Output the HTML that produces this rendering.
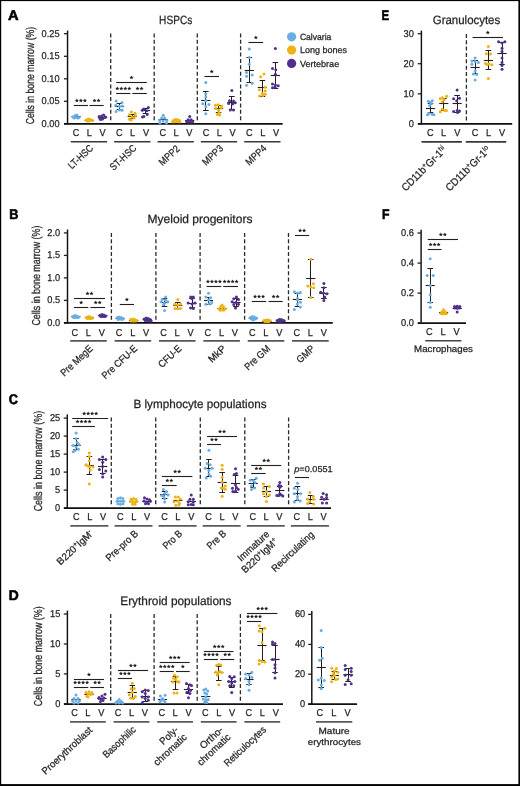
<!DOCTYPE html>
<html><head><meta charset="utf-8"><style>
html,body{margin:0;padding:0;background:#fff;width:520px;height:786px;overflow:hidden}
svg{display:block;will-change:transform}
text{font-family:"Liberation Sans",sans-serif;stroke:#231f20;stroke-width:0.25px;text-rendering:geometricPrecision}
</style></head><body>
<svg width="520" height="786" viewBox="0 0 520 786">
<rect x="0" y="0" width="520" height="786" fill="#fff"/>
<text x="8" y="19.6" font-size="14" text-anchor="start" fill="#000" font-weight="bold" textLength="10.6" lengthAdjust="spacingAndGlyphs" style="stroke:#000;stroke-width:0.6px">A</text>
<text x="159.1" y="23.9" font-size="12" text-anchor="start" fill="#231f20" font-weight="normal" textLength="33.2" lengthAdjust="spacingAndGlyphs">HSPCs</text>
<text transform="translate(34 75.6) rotate(-90)" font-size="11.5" text-anchor="middle" fill="#231f20" textLength="97.5" lengthAdjust="spacingAndGlyphs">Cells in bone marrow (%)</text>
<line x1="67.55" y1="30.6" x2="67.55" y2="124.3" stroke="#111" stroke-width="1.45"/>
<line x1="63.95" y1="33.7" x2="67.55" y2="33.7" stroke="#231f20" stroke-width="1.3"/>
<text x="59.6" y="36.6" font-size="9.9" text-anchor="end" fill="#231f20" font-weight="normal" textLength="18.01" lengthAdjust="spacingAndGlyphs">0.25</text>
<line x1="63.95" y1="56.3" x2="67.55" y2="56.3" stroke="#231f20" stroke-width="1.3"/>
<text x="59.6" y="59.2" font-size="9.9" text-anchor="end" fill="#231f20" font-weight="normal" textLength="18.01" lengthAdjust="spacingAndGlyphs">0.15</text>
<line x1="63.95" y1="78.8" x2="67.55" y2="78.8" stroke="#231f20" stroke-width="1.3"/>
<text x="59.6" y="81.7" font-size="9.9" text-anchor="end" fill="#231f20" font-weight="normal" textLength="18.01" lengthAdjust="spacingAndGlyphs">0.10</text>
<line x1="63.95" y1="101.3" x2="67.55" y2="101.3" stroke="#231f20" stroke-width="1.3"/>
<text x="59.6" y="104.2" font-size="9.9" text-anchor="end" fill="#231f20" font-weight="normal" textLength="18.01" lengthAdjust="spacingAndGlyphs">0.05</text>
<line x1="63.95" y1="123.8" x2="67.55" y2="123.8" stroke="#231f20" stroke-width="1.3"/>
<text x="59.6" y="126.7" font-size="9.9" text-anchor="end" fill="#231f20" font-weight="normal" textLength="18.01" lengthAdjust="spacingAndGlyphs">0.00</text>
<line x1="64" y1="123.8" x2="282.6" y2="123.8" stroke="#111" stroke-width="1.7"/>
<line x1="110.7" y1="33.5" x2="110.7" y2="122.5" stroke="#2a2a2a" stroke-width="1.3" stroke-dasharray="4 2.36"/>
<line x1="154.2" y1="33.5" x2="154.2" y2="122.5" stroke="#2a2a2a" stroke-width="1.3" stroke-dasharray="4 2.36"/>
<line x1="197.3" y1="33.5" x2="197.3" y2="122.5" stroke="#2a2a2a" stroke-width="1.3" stroke-dasharray="4 2.36"/>
<line x1="240.6" y1="33.5" x2="240.6" y2="122.5" stroke="#2a2a2a" stroke-width="1.3" stroke-dasharray="4 2.36"/>
<text x="76" y="135.6" font-size="10" text-anchor="middle" fill="#231f20" font-weight="normal" textLength="6.64" lengthAdjust="spacingAndGlyphs">C</text>
<text x="89.3" y="135.6" font-size="10" text-anchor="middle" fill="#231f20" font-weight="normal" textLength="5.12" lengthAdjust="spacingAndGlyphs">L</text>
<text x="102.6" y="135.6" font-size="10" text-anchor="middle" fill="#231f20" font-weight="normal" textLength="6.14" lengthAdjust="spacingAndGlyphs">V</text>
<text x="119.35" y="135.6" font-size="10" text-anchor="middle" fill="#231f20" font-weight="normal" textLength="6.64" lengthAdjust="spacingAndGlyphs">C</text>
<text x="132.65" y="135.6" font-size="10" text-anchor="middle" fill="#231f20" font-weight="normal" textLength="5.12" lengthAdjust="spacingAndGlyphs">L</text>
<text x="145.95" y="135.6" font-size="10" text-anchor="middle" fill="#231f20" font-weight="normal" textLength="6.14" lengthAdjust="spacingAndGlyphs">V</text>
<text x="162.7" y="135.6" font-size="10" text-anchor="middle" fill="#231f20" font-weight="normal" textLength="6.64" lengthAdjust="spacingAndGlyphs">C</text>
<text x="176" y="135.6" font-size="10" text-anchor="middle" fill="#231f20" font-weight="normal" textLength="5.12" lengthAdjust="spacingAndGlyphs">L</text>
<text x="189.3" y="135.6" font-size="10" text-anchor="middle" fill="#231f20" font-weight="normal" textLength="6.14" lengthAdjust="spacingAndGlyphs">V</text>
<text x="206.05" y="135.6" font-size="10" text-anchor="middle" fill="#231f20" font-weight="normal" textLength="6.64" lengthAdjust="spacingAndGlyphs">C</text>
<text x="219.35" y="135.6" font-size="10" text-anchor="middle" fill="#231f20" font-weight="normal" textLength="5.12" lengthAdjust="spacingAndGlyphs">L</text>
<text x="232.65" y="135.6" font-size="10" text-anchor="middle" fill="#231f20" font-weight="normal" textLength="6.14" lengthAdjust="spacingAndGlyphs">V</text>
<text x="249.4" y="135.6" font-size="10" text-anchor="middle" fill="#231f20" font-weight="normal" textLength="6.64" lengthAdjust="spacingAndGlyphs">C</text>
<text x="262.7" y="135.6" font-size="10" text-anchor="middle" fill="#231f20" font-weight="normal" textLength="5.12" lengthAdjust="spacingAndGlyphs">L</text>
<text x="276" y="135.6" font-size="10" text-anchor="middle" fill="#231f20" font-weight="normal" textLength="6.14" lengthAdjust="spacingAndGlyphs">V</text>
<line x1="70.8" y1="141.8" x2="107.1" y2="141.8" stroke="#383838" stroke-width="1.6"/>
<text transform="translate(93.8 149) rotate(-43)" font-size="10" text-anchor="end" fill="#231f20" textLength="30.08" lengthAdjust="spacingAndGlyphs">LT-HSC</text>
<line x1="114.15" y1="141.8" x2="150.45" y2="141.8" stroke="#383838" stroke-width="1.6"/>
<text transform="translate(137.15 149) rotate(-43)" font-size="10" text-anchor="end" fill="#231f20" textLength="32.34" lengthAdjust="spacingAndGlyphs">ST-HSC</text>
<line x1="157.5" y1="141.8" x2="193.8" y2="141.8" stroke="#383838" stroke-width="1.6"/>
<text transform="translate(180.5 149.5) rotate(-43)" font-size="10" text-anchor="end" fill="#231f20" textLength="24.51" lengthAdjust="spacingAndGlyphs">MPP2</text>
<line x1="200.85" y1="141.8" x2="237.15" y2="141.8" stroke="#383838" stroke-width="1.6"/>
<text transform="translate(223.85 149.2) rotate(-43)" font-size="10" text-anchor="end" fill="#231f20" textLength="24.51" lengthAdjust="spacingAndGlyphs">MPP3</text>
<line x1="244.2" y1="141.8" x2="280.5" y2="141.8" stroke="#383838" stroke-width="1.6"/>
<text transform="translate(267.2 149.2) rotate(-43)" font-size="10" text-anchor="end" fill="#231f20" textLength="24.51" lengthAdjust="spacingAndGlyphs">MPP4</text>
<circle cx="291.6" cy="36.8" r="4.6" fill="#6aade2"/>
<text x="299.9" y="40" font-size="9" text-anchor="start" fill="#231f20" font-weight="normal" textLength="31.5" lengthAdjust="spacingAndGlyphs">Calvaria</text>
<circle cx="291.6" cy="50.1" r="4.6" fill="#eeb311"/>
<text x="299.9" y="53.3" font-size="9" text-anchor="start" fill="#231f20" font-weight="normal" textLength="47" lengthAdjust="spacingAndGlyphs">Long bones</text>
<circle cx="291.6" cy="63.4" r="4.6" fill="#51308d"/>
<text x="299.9" y="66.6" font-size="9" text-anchor="start" fill="#231f20" font-weight="normal" textLength="39.3" lengthAdjust="spacingAndGlyphs">Vertebrae</text>
<line x1="71.4" y1="116.5" x2="80.6" y2="116.5" stroke="#231f20" stroke-width="1.1"/>
<circle cx="73" cy="117" r="1.5" fill="#6aade2"/>
<circle cx="75" cy="115.5" r="1.5" fill="#6aade2"/>
<circle cx="77" cy="115" r="1.5" fill="#6aade2"/>
<circle cx="79" cy="117.5" r="1.5" fill="#6aade2"/>
<circle cx="76" cy="117.5" r="1.5" fill="#6aade2"/>
<circle cx="74" cy="118" r="1.5" fill="#6aade2"/>
<circle cx="78" cy="118" r="1.5" fill="#6aade2"/>
<line x1="84.7" y1="120.5" x2="93.9" y2="120.5" stroke="#231f20" stroke-width="1.1"/>
<circle cx="86.3" cy="120" r="1.5" fill="#eeb311"/>
<circle cx="88.3" cy="119" r="1.5" fill="#eeb311"/>
<circle cx="90.3" cy="119.5" r="1.5" fill="#eeb311"/>
<circle cx="92.3" cy="120.5" r="1.5" fill="#eeb311"/>
<circle cx="89.3" cy="121" r="1.5" fill="#eeb311"/>
<circle cx="87.3" cy="121" r="1.5" fill="#eeb311"/>
<circle cx="91.3" cy="120" r="1.5" fill="#eeb311"/>
<line x1="98" y1="117.5" x2="107.2" y2="117.5" stroke="#231f20" stroke-width="1.1"/>
<circle cx="99.6" cy="118" r="1.5" fill="#51308d"/>
<circle cx="101.6" cy="116" r="1.5" fill="#51308d"/>
<circle cx="103.6" cy="115" r="1.5" fill="#51308d"/>
<circle cx="105.6" cy="117" r="1.5" fill="#51308d"/>
<circle cx="102.6" cy="119" r="1.5" fill="#51308d"/>
<circle cx="100.6" cy="119.5" r="1.5" fill="#51308d"/>
<circle cx="104.6" cy="117.5" r="1.5" fill="#51308d"/>
<circle cx="99.1" cy="116.5" r="1.5" fill="#51308d"/>
<line x1="119.5" y1="103.1" x2="119.5" y2="109.5" stroke="#231f20" stroke-width="1"/>
<line x1="116.7" y1="103.5" x2="122.3" y2="103.5" stroke="#231f20" stroke-width="1"/>
<line x1="116.7" y1="109.5" x2="122.3" y2="109.5" stroke="#231f20" stroke-width="1"/>
<line x1="114.9" y1="106.5" x2="124.1" y2="106.5" stroke="#231f20" stroke-width="1.1"/>
<circle cx="116.1" cy="101.1" r="1.5" fill="#6aade2"/>
<circle cx="122" cy="102.4" r="1.5" fill="#6aade2"/>
<circle cx="115.8" cy="105.3" r="1.5" fill="#6aade2"/>
<circle cx="122.1" cy="105.9" r="1.5" fill="#6aade2"/>
<circle cx="119.5" cy="106.3" r="1.5" fill="#6aade2"/>
<circle cx="116.1" cy="111.6" r="1.5" fill="#6aade2"/>
<circle cx="122.1" cy="110.3" r="1.5" fill="#6aade2"/>
<circle cx="119.5" cy="110" r="1.5" fill="#6aade2"/>
<line x1="132.5" y1="114" x2="132.5" y2="118.5" stroke="#231f20" stroke-width="1"/>
<line x1="129.4" y1="114.5" x2="135" y2="114.5" stroke="#231f20" stroke-width="1"/>
<line x1="129.4" y1="118.5" x2="135" y2="118.5" stroke="#231f20" stroke-width="1"/>
<line x1="127.6" y1="116.5" x2="136.8" y2="116.5" stroke="#231f20" stroke-width="1.1"/>
<circle cx="131.4" cy="112" r="1.5" fill="#eeb311"/>
<circle cx="135" cy="113.2" r="1.5" fill="#eeb311"/>
<circle cx="129.4" cy="114.8" r="1.5" fill="#eeb311"/>
<circle cx="135.5" cy="115.5" r="1.5" fill="#eeb311"/>
<circle cx="129.4" cy="119.2" r="1.5" fill="#eeb311"/>
<circle cx="134.2" cy="118" r="1.5" fill="#eeb311"/>
<circle cx="132" cy="117" r="1.5" fill="#eeb311"/>
<circle cx="131.2" cy="120" r="1.5" fill="#eeb311"/>
<line x1="145.5" y1="108.5" x2="145.5" y2="113" stroke="#231f20" stroke-width="1"/>
<line x1="142.7" y1="108.5" x2="148.3" y2="108.5" stroke="#231f20" stroke-width="1"/>
<line x1="142.7" y1="113.5" x2="148.3" y2="113.5" stroke="#231f20" stroke-width="1"/>
<line x1="140.9" y1="110.5" x2="150.1" y2="110.5" stroke="#231f20" stroke-width="1.1"/>
<circle cx="148.4" cy="107.5" r="1.5" fill="#51308d"/>
<circle cx="143.9" cy="109.1" r="1.5" fill="#51308d"/>
<circle cx="142.3" cy="110.3" r="1.5" fill="#51308d"/>
<circle cx="146.8" cy="110.8" r="1.5" fill="#51308d"/>
<circle cx="147.2" cy="114.4" r="1.5" fill="#51308d"/>
<circle cx="143.9" cy="116.4" r="1.5" fill="#51308d"/>
<circle cx="142.5" cy="117" r="1.5" fill="#51308d"/>
<line x1="158.6" y1="119.5" x2="167.8" y2="119.5" stroke="#231f20" stroke-width="1.1"/>
<circle cx="163.2" cy="115.2" r="1.5" fill="#6aade2"/>
<circle cx="161.7" cy="118" r="1.5" fill="#6aade2"/>
<circle cx="164.7" cy="118" r="1.5" fill="#6aade2"/>
<circle cx="159.7" cy="120.5" r="1.5" fill="#6aade2"/>
<circle cx="166.7" cy="120.5" r="1.5" fill="#6aade2"/>
<circle cx="160" cy="123" r="1.5" fill="#6aade2"/>
<circle cx="166.4" cy="123" r="1.5" fill="#6aade2"/>
<circle cx="163.2" cy="121" r="1.5" fill="#6aade2"/>
<line x1="171.7" y1="121.5" x2="180.9" y2="121.5" stroke="#231f20" stroke-width="1.1"/>
<circle cx="173.3" cy="120.5" r="1.5" fill="#eeb311"/>
<circle cx="175.3" cy="119.5" r="1.5" fill="#eeb311"/>
<circle cx="177.3" cy="119.5" r="1.5" fill="#eeb311"/>
<circle cx="179.3" cy="120.5" r="1.5" fill="#eeb311"/>
<circle cx="176.3" cy="121.5" r="1.5" fill="#eeb311"/>
<circle cx="173.8" cy="121.8" r="1.5" fill="#eeb311"/>
<circle cx="178.8" cy="121.8" r="1.5" fill="#eeb311"/>
<circle cx="172.8" cy="121.7" r="1.5" fill="#eeb311"/>
<circle cx="179.8" cy="121.7" r="1.5" fill="#eeb311"/>
<line x1="185.1" y1="120.5" x2="194.3" y2="120.5" stroke="#231f20" stroke-width="1.1"/>
<circle cx="189.7" cy="116.5" r="1.5" fill="#51308d"/>
<circle cx="188.2" cy="119.8" r="1.5" fill="#51308d"/>
<circle cx="191.2" cy="119.8" r="1.5" fill="#51308d"/>
<circle cx="186.7" cy="121.5" r="1.5" fill="#51308d"/>
<circle cx="192.7" cy="121.5" r="1.5" fill="#51308d"/>
<circle cx="189.7" cy="121.5" r="1.5" fill="#51308d"/>
<circle cx="188.2" cy="122" r="1.5" fill="#51308d"/>
<circle cx="191.2" cy="122" r="1.5" fill="#51308d"/>
<line x1="205.5" y1="91" x2="205.5" y2="110" stroke="#231f20" stroke-width="1"/>
<line x1="203" y1="91.5" x2="208.6" y2="91.5" stroke="#231f20" stroke-width="1"/>
<line x1="203" y1="110.5" x2="208.6" y2="110.5" stroke="#231f20" stroke-width="1"/>
<line x1="201.2" y1="100.5" x2="210.4" y2="100.5" stroke="#231f20" stroke-width="1.1"/>
<circle cx="205.8" cy="82.6" r="1.5" fill="#6aade2"/>
<circle cx="205.8" cy="93.9" r="1.5" fill="#6aade2"/>
<circle cx="205.8" cy="97.1" r="1.5" fill="#6aade2"/>
<circle cx="205.8" cy="100.7" r="1.5" fill="#6aade2"/>
<circle cx="202.8" cy="103.8" r="1.5" fill="#6aade2"/>
<circle cx="208.9" cy="104.4" r="1.5" fill="#6aade2"/>
<circle cx="205.8" cy="106.8" r="1.5" fill="#6aade2"/>
<circle cx="205.8" cy="113.7" r="1.5" fill="#6aade2"/>
<line x1="218.5" y1="105.2" x2="218.5" y2="112.5" stroke="#231f20" stroke-width="1"/>
<line x1="215.8" y1="105.5" x2="221.4" y2="105.5" stroke="#231f20" stroke-width="1"/>
<line x1="215.8" y1="112.5" x2="221.4" y2="112.5" stroke="#231f20" stroke-width="1"/>
<line x1="214" y1="108.5" x2="223.2" y2="108.5" stroke="#231f20" stroke-width="1.1"/>
<circle cx="215.4" cy="105.2" r="1.5" fill="#eeb311"/>
<circle cx="218.2" cy="104.8" r="1.5" fill="#eeb311"/>
<circle cx="221.8" cy="106" r="1.5" fill="#eeb311"/>
<circle cx="215.8" cy="108.4" r="1.5" fill="#eeb311"/>
<circle cx="218.6" cy="110" r="1.5" fill="#eeb311"/>
<circle cx="219" cy="112.8" r="1.5" fill="#eeb311"/>
<circle cx="217.4" cy="114.5" r="1.5" fill="#eeb311"/>
<circle cx="219.8" cy="114.9" r="1.5" fill="#eeb311"/>
<circle cx="221.1" cy="108" r="1.5" fill="#eeb311"/>
<line x1="231.5" y1="96.5" x2="231.5" y2="109.6" stroke="#231f20" stroke-width="1"/>
<line x1="229" y1="96.5" x2="234.6" y2="96.5" stroke="#231f20" stroke-width="1"/>
<line x1="229" y1="109.5" x2="234.6" y2="109.5" stroke="#231f20" stroke-width="1"/>
<line x1="227.2" y1="102.5" x2="236.4" y2="102.5" stroke="#231f20" stroke-width="1.1"/>
<circle cx="231.8" cy="90.4" r="1.5" fill="#51308d"/>
<circle cx="229.5" cy="100.7" r="1.5" fill="#51308d"/>
<circle cx="233.5" cy="101.1" r="1.5" fill="#51308d"/>
<circle cx="235.2" cy="102.8" r="1.5" fill="#51308d"/>
<circle cx="228.7" cy="103.6" r="1.5" fill="#51308d"/>
<circle cx="232.7" cy="104" r="1.5" fill="#51308d"/>
<circle cx="230.3" cy="110" r="1.5" fill="#51308d"/>
<circle cx="233.5" cy="110" r="1.5" fill="#51308d"/>
<line x1="249.5" y1="57.6" x2="249.5" y2="82.8" stroke="#231f20" stroke-width="1"/>
<line x1="246.5" y1="57.5" x2="252.1" y2="57.5" stroke="#231f20" stroke-width="1"/>
<line x1="246.5" y1="82.5" x2="252.1" y2="82.5" stroke="#231f20" stroke-width="1"/>
<line x1="244.7" y1="70.5" x2="253.9" y2="70.5" stroke="#231f20" stroke-width="1.1"/>
<circle cx="249.3" cy="48.9" r="1.5" fill="#6aade2"/>
<circle cx="249.3" cy="57.6" r="1.5" fill="#6aade2"/>
<circle cx="249.3" cy="64.3" r="1.5" fill="#6aade2"/>
<circle cx="246.5" cy="72.5" r="1.5" fill="#6aade2"/>
<circle cx="252.2" cy="74.9" r="1.5" fill="#6aade2"/>
<circle cx="246.5" cy="76.3" r="1.5" fill="#6aade2"/>
<circle cx="252.2" cy="83.2" r="1.5" fill="#6aade2"/>
<circle cx="246.5" cy="85.3" r="1.5" fill="#6aade2"/>
<line x1="262.5" y1="80" x2="262.5" y2="96.3" stroke="#231f20" stroke-width="1"/>
<line x1="259.6" y1="80.5" x2="265.2" y2="80.5" stroke="#231f20" stroke-width="1"/>
<line x1="259.6" y1="96.5" x2="265.2" y2="96.5" stroke="#231f20" stroke-width="1"/>
<line x1="257.8" y1="87.5" x2="267" y2="87.5" stroke="#231f20" stroke-width="1.1"/>
<circle cx="264" cy="74.1" r="1.5" fill="#eeb311"/>
<circle cx="260.7" cy="76.7" r="1.5" fill="#eeb311"/>
<circle cx="265.2" cy="87.3" r="1.5" fill="#eeb311"/>
<circle cx="259.5" cy="89.7" r="1.5" fill="#eeb311"/>
<circle cx="265.2" cy="91" r="1.5" fill="#eeb311"/>
<circle cx="262.4" cy="93.4" r="1.5" fill="#eeb311"/>
<circle cx="265.2" cy="94.2" r="1.5" fill="#eeb311"/>
<circle cx="259.5" cy="95.9" r="1.5" fill="#eeb311"/>
<circle cx="262.9" cy="95.5" r="1.5" fill="#eeb311"/>
<line x1="275.5" y1="62.5" x2="275.5" y2="88.5" stroke="#231f20" stroke-width="1"/>
<line x1="272.6" y1="62.5" x2="278.2" y2="62.5" stroke="#231f20" stroke-width="1"/>
<line x1="272.6" y1="88.5" x2="278.2" y2="88.5" stroke="#231f20" stroke-width="1"/>
<line x1="270.8" y1="75.5" x2="280" y2="75.5" stroke="#231f20" stroke-width="1.1"/>
<circle cx="275.4" cy="48.6" r="1.5" fill="#51308d"/>
<circle cx="272.5" cy="68.6" r="1.5" fill="#51308d"/>
<circle cx="275.8" cy="69.8" r="1.5" fill="#51308d"/>
<circle cx="275.4" cy="74.3" r="1.5" fill="#51308d"/>
<circle cx="272.5" cy="84" r="1.5" fill="#51308d"/>
<circle cx="275.4" cy="85" r="1.5" fill="#51308d"/>
<circle cx="278.2" cy="85.8" r="1.5" fill="#51308d"/>
<circle cx="272.5" cy="87.7" r="1.5" fill="#51308d"/>
<circle cx="275" cy="87.2" r="1.5" fill="#51308d"/>
<line x1="73.8" y1="105.5" x2="88" y2="105.5" stroke="#231f20" stroke-width="1.1"/>
<polygon points="76.9,98.45 77.49,99.78 78.94,99.94 77.86,100.91 78.16,102.34 76.9,101.61 75.64,102.34 75.94,100.91 74.86,99.94 76.31,99.78" fill="#231f20"/>
<polygon points="80.9,98.45 81.49,99.78 82.94,99.94 81.86,100.91 82.16,102.34 80.9,101.61 79.64,102.34 79.94,100.91 78.86,99.94 80.31,99.78" fill="#231f20"/>
<polygon points="84.9,98.45 85.49,99.78 86.94,99.94 85.86,100.91 86.16,102.34 84.9,101.61 83.64,102.34 83.94,100.91 82.86,99.94 84.31,99.78" fill="#231f20"/>
<line x1="89.4" y1="105.5" x2="103.7" y2="105.5" stroke="#231f20" stroke-width="1.1"/>
<polygon points="94.55,98.45 95.14,99.78 96.59,99.94 95.51,100.91 95.81,102.34 94.55,101.61 93.29,102.34 93.59,100.91 92.51,99.94 93.96,99.78" fill="#231f20"/>
<polygon points="98.55,98.45 99.14,99.78 100.59,99.94 99.51,100.91 99.81,102.34 98.55,101.61 97.29,102.34 97.59,100.91 96.51,99.94 97.96,99.78" fill="#231f20"/>
<line x1="116.2" y1="82.5" x2="146.8" y2="82.5" stroke="#231f20" stroke-width="1.1"/>
<polygon points="131.5,75.45 132.09,76.78 133.54,76.94 132.46,77.91 132.76,79.34 131.5,78.61 130.24,79.34 130.54,77.91 129.46,76.94 130.91,76.78" fill="#231f20"/>
<line x1="116.2" y1="93.5" x2="130.4" y2="93.5" stroke="#231f20" stroke-width="1.1"/>
<polygon points="117.3,86.45 117.89,87.78 119.34,87.94 118.26,88.91 118.56,90.34 117.3,89.61 116.04,90.34 116.34,88.91 115.26,87.94 116.71,87.78" fill="#231f20"/>
<polygon points="121.3,86.45 121.89,87.78 123.34,87.94 122.26,88.91 122.56,90.34 121.3,89.61 120.04,90.34 120.34,88.91 119.26,87.94 120.71,87.78" fill="#231f20"/>
<polygon points="125.3,86.45 125.89,87.78 127.34,87.94 126.26,88.91 126.56,90.34 125.3,89.61 124.04,90.34 124.34,88.91 123.26,87.94 124.71,87.78" fill="#231f20"/>
<polygon points="129.3,86.45 129.89,87.78 131.34,87.94 130.26,88.91 130.56,90.34 129.3,89.61 128.04,90.34 128.34,88.91 127.26,87.94 128.71,87.78" fill="#231f20"/>
<line x1="132.3" y1="93.5" x2="146.8" y2="93.5" stroke="#231f20" stroke-width="1.1"/>
<polygon points="137.55,86.45 138.14,87.78 139.59,87.94 138.51,88.91 138.81,90.34 137.55,89.61 136.29,90.34 136.59,88.91 135.51,87.94 136.96,87.78" fill="#231f20"/>
<polygon points="141.55,86.45 142.14,87.78 143.59,87.94 142.51,88.91 142.81,90.34 141.55,89.61 140.29,90.34 140.59,88.91 139.51,87.94 140.96,87.78" fill="#231f20"/>
<line x1="204.4" y1="76.5" x2="219" y2="76.5" stroke="#231f20" stroke-width="1.1"/>
<polygon points="211.7,69.45 212.29,70.78 213.74,70.94 212.66,71.91 212.96,73.34 211.7,72.61 210.44,73.34 210.74,71.91 209.66,70.94 211.11,70.78" fill="#231f20"/>
<line x1="248.5" y1="42.5" x2="263.2" y2="42.5" stroke="#231f20" stroke-width="1.1"/>
<polygon points="255.85,35.45 256.44,36.78 257.89,36.94 256.81,37.91 257.11,39.34 255.85,38.61 254.59,39.34 254.89,37.91 253.81,36.94 255.26,36.78" fill="#231f20"/>
<text x="381.6" y="19.7" font-size="14" text-anchor="start" fill="#000" font-weight="bold" textLength="7.6" lengthAdjust="spacingAndGlyphs" style="stroke:#000;stroke-width:0.6px">E</text>
<text x="466.5" y="23.9" font-size="12" text-anchor="middle" fill="#231f20" font-weight="normal" textLength="67.4" lengthAdjust="spacingAndGlyphs">Granulocytes</text>
<line x1="421.4" y1="30.6" x2="421.4" y2="124.3" stroke="#111" stroke-width="1.45"/>
<line x1="417.8" y1="33.7" x2="421.4" y2="33.7" stroke="#231f20" stroke-width="1.3"/>
<text x="413.9" y="36.6" font-size="9.9" text-anchor="end" fill="#231f20" font-weight="normal" textLength="10.29" lengthAdjust="spacingAndGlyphs">30</text>
<line x1="417.8" y1="63.7" x2="421.4" y2="63.7" stroke="#231f20" stroke-width="1.3"/>
<text x="413.9" y="66.6" font-size="9.9" text-anchor="end" fill="#231f20" font-weight="normal" textLength="10.29" lengthAdjust="spacingAndGlyphs">20</text>
<line x1="417.8" y1="93.8" x2="421.4" y2="93.8" stroke="#231f20" stroke-width="1.3"/>
<text x="413.9" y="96.7" font-size="9.9" text-anchor="end" fill="#231f20" font-weight="normal" textLength="10.29" lengthAdjust="spacingAndGlyphs">10</text>
<line x1="417.8" y1="123.9" x2="421.4" y2="123.9" stroke="#231f20" stroke-width="1.3"/>
<text x="413.9" y="126.8" font-size="9.9" text-anchor="end" fill="#231f20" font-weight="normal" textLength="5.15" lengthAdjust="spacingAndGlyphs">0</text>
<line x1="418" y1="123.8" x2="512.2" y2="123.8" stroke="#111" stroke-width="1.7"/>
<line x1="466.4" y1="33.9" x2="466.4" y2="122" stroke="#2a2a2a" stroke-width="1.3" stroke-dasharray="4 2.36"/>
<text x="430.3" y="135.7" font-size="10" text-anchor="middle" fill="#231f20" font-weight="normal" textLength="6.64" lengthAdjust="spacingAndGlyphs">C</text>
<text x="443.5" y="135.7" font-size="10" text-anchor="middle" fill="#231f20" font-weight="normal" textLength="5.12" lengthAdjust="spacingAndGlyphs">L</text>
<text x="457.2" y="135.7" font-size="10" text-anchor="middle" fill="#231f20" font-weight="normal" textLength="6.14" lengthAdjust="spacingAndGlyphs">V</text>
<text x="475.1" y="135.7" font-size="10" text-anchor="middle" fill="#231f20" font-weight="normal" textLength="6.64" lengthAdjust="spacingAndGlyphs">C</text>
<text x="488.5" y="135.7" font-size="10" text-anchor="middle" fill="#231f20" font-weight="normal" textLength="5.12" lengthAdjust="spacingAndGlyphs">L</text>
<text x="502" y="135.7" font-size="10" text-anchor="middle" fill="#231f20" font-weight="normal" textLength="6.14" lengthAdjust="spacingAndGlyphs">V</text>
<line x1="421.5" y1="141.9" x2="461.9" y2="141.9" stroke="#383838" stroke-width="1.6"/>
<line x1="465.8" y1="141.9" x2="506.2" y2="141.9" stroke="#383838" stroke-width="1.6"/>
<text transform="translate(447 150.5) rotate(-45)" font-size="10.5" text-anchor="end" fill="#231f20" textLength="58.5" lengthAdjust="spacingAndGlyphs">CD11b<tspan dy="-3.5" font-size="7">+</tspan><tspan dy="3.5">Gr-1</tspan><tspan dy="-3.5" font-size="7">hi</tspan></text>
<text transform="translate(491 150.5) rotate(-45)" font-size="10.5" text-anchor="end" fill="#231f20" textLength="58.5" lengthAdjust="spacingAndGlyphs">CD11b<tspan dy="-3.5" font-size="7">+</tspan><tspan dy="3.5">Gr-1</tspan><tspan dy="-3.5" font-size="7">lo</tspan></text>
<line x1="430.5" y1="103" x2="430.5" y2="112.5" stroke="#231f20" stroke-width="1"/>
<line x1="427.7" y1="103.5" x2="433.3" y2="103.5" stroke="#231f20" stroke-width="1"/>
<line x1="427.7" y1="112.5" x2="433.3" y2="112.5" stroke="#231f20" stroke-width="1"/>
<line x1="425.9" y1="108.5" x2="435.1" y2="108.5" stroke="#231f20" stroke-width="1.1"/>
<circle cx="428.4" cy="101.2" r="1.5" fill="#6aade2"/>
<circle cx="432.3" cy="100.8" r="1.5" fill="#6aade2"/>
<circle cx="430.5" cy="102.5" r="1.5" fill="#6aade2"/>
<circle cx="431.3" cy="103.8" r="1.5" fill="#6aade2"/>
<circle cx="429.6" cy="105.5" r="1.5" fill="#6aade2"/>
<circle cx="427.5" cy="114.8" r="1.5" fill="#6aade2"/>
<circle cx="429" cy="113.5" r="1.5" fill="#6aade2"/>
<circle cx="432.2" cy="114.3" r="1.5" fill="#6aade2"/>
<circle cx="433.8" cy="114.8" r="1.5" fill="#6aade2"/>
<line x1="443.5" y1="98" x2="443.5" y2="110" stroke="#231f20" stroke-width="1"/>
<line x1="441" y1="98.5" x2="446.6" y2="98.5" stroke="#231f20" stroke-width="1"/>
<line x1="441" y1="110.5" x2="446.6" y2="110.5" stroke="#231f20" stroke-width="1"/>
<line x1="439.2" y1="103.5" x2="448.4" y2="103.5" stroke="#231f20" stroke-width="1.1"/>
<circle cx="446.5" cy="96.2" r="1.5" fill="#eeb311"/>
<circle cx="442.3" cy="97.8" r="1.5" fill="#eeb311"/>
<circle cx="440.2" cy="98.7" r="1.5" fill="#eeb311"/>
<circle cx="444.1" cy="99.5" r="1.5" fill="#eeb311"/>
<circle cx="442.3" cy="101.7" r="1.5" fill="#eeb311"/>
<circle cx="446.5" cy="110.5" r="1.5" fill="#eeb311"/>
<circle cx="442.3" cy="109.3" r="1.5" fill="#eeb311"/>
<circle cx="440.2" cy="111.8" r="1.5" fill="#eeb311"/>
<circle cx="444.8" cy="110.5" r="1.5" fill="#eeb311"/>
<line x1="457.5" y1="95.7" x2="457.5" y2="112" stroke="#231f20" stroke-width="1"/>
<line x1="454.3" y1="95.5" x2="459.9" y2="95.5" stroke="#231f20" stroke-width="1"/>
<line x1="454.3" y1="112.5" x2="459.9" y2="112.5" stroke="#231f20" stroke-width="1"/>
<line x1="452.5" y1="103.5" x2="461.7" y2="103.5" stroke="#231f20" stroke-width="1.1"/>
<circle cx="457.1" cy="90.1" r="1.5" fill="#51308d"/>
<circle cx="453.6" cy="98.7" r="1.5" fill="#51308d"/>
<circle cx="459.5" cy="98.3" r="1.5" fill="#51308d"/>
<circle cx="456.7" cy="100.8" r="1.5" fill="#51308d"/>
<circle cx="453.6" cy="111.4" r="1.5" fill="#51308d"/>
<circle cx="459.5" cy="111" r="1.5" fill="#51308d"/>
<circle cx="457.1" cy="110.5" r="1.5" fill="#51308d"/>
<circle cx="457.5" cy="112.6" r="1.5" fill="#51308d"/>
<line x1="475.5" y1="60" x2="475.5" y2="73.6" stroke="#231f20" stroke-width="1"/>
<line x1="472.3" y1="60.5" x2="477.9" y2="60.5" stroke="#231f20" stroke-width="1"/>
<line x1="472.3" y1="73.5" x2="477.9" y2="73.5" stroke="#231f20" stroke-width="1"/>
<line x1="470.5" y1="67.5" x2="479.7" y2="67.5" stroke="#231f20" stroke-width="1.1"/>
<circle cx="475.1" cy="57.9" r="1.5" fill="#6aade2"/>
<circle cx="471.9" cy="60.9" r="1.5" fill="#6aade2"/>
<circle cx="475.1" cy="61.5" r="1.5" fill="#6aade2"/>
<circle cx="478.4" cy="62.6" r="1.5" fill="#6aade2"/>
<circle cx="471.9" cy="64.3" r="1.5" fill="#6aade2"/>
<circle cx="475.1" cy="71" r="1.5" fill="#6aade2"/>
<circle cx="473.3" cy="74" r="1.5" fill="#6aade2"/>
<circle cx="476.7" cy="74.4" r="1.5" fill="#6aade2"/>
<circle cx="475.1" cy="79.9" r="1.5" fill="#6aade2"/>
<line x1="488.5" y1="50.7" x2="488.5" y2="69.3" stroke="#231f20" stroke-width="1"/>
<line x1="485.6" y1="50.5" x2="491.2" y2="50.5" stroke="#231f20" stroke-width="1"/>
<line x1="485.6" y1="69.5" x2="491.2" y2="69.5" stroke="#231f20" stroke-width="1"/>
<line x1="483.8" y1="60.5" x2="493" y2="60.5" stroke="#231f20" stroke-width="1.1"/>
<circle cx="488.4" cy="46.5" r="1.5" fill="#eeb311"/>
<circle cx="486.3" cy="53.7" r="1.5" fill="#eeb311"/>
<circle cx="490.5" cy="54.1" r="1.5" fill="#eeb311"/>
<circle cx="485.5" cy="63.4" r="1.5" fill="#eeb311"/>
<circle cx="488.8" cy="63.8" r="1.5" fill="#eeb311"/>
<circle cx="491.8" cy="64.7" r="1.5" fill="#eeb311"/>
<circle cx="487.2" cy="64.5" r="1.5" fill="#eeb311"/>
<circle cx="488.4" cy="78.6" r="1.5" fill="#eeb311"/>
<line x1="502.5" y1="42.3" x2="502.5" y2="64.7" stroke="#231f20" stroke-width="1"/>
<line x1="499.2" y1="42.5" x2="504.8" y2="42.5" stroke="#231f20" stroke-width="1"/>
<line x1="499.2" y1="64.5" x2="504.8" y2="64.5" stroke="#231f20" stroke-width="1"/>
<line x1="497.4" y1="53.5" x2="506.6" y2="53.5" stroke="#231f20" stroke-width="1.1"/>
<circle cx="498.6" cy="41.8" r="1.5" fill="#51308d"/>
<circle cx="504.9" cy="41.8" r="1.5" fill="#51308d"/>
<circle cx="502" cy="43" r="1.5" fill="#51308d"/>
<circle cx="502" cy="48.2" r="1.5" fill="#51308d"/>
<circle cx="502" cy="51.6" r="1.5" fill="#51308d"/>
<circle cx="502" cy="57.9" r="1.5" fill="#51308d"/>
<circle cx="502" cy="62.6" r="1.5" fill="#51308d"/>
<circle cx="502" cy="65.5" r="1.5" fill="#51308d"/>
<circle cx="502" cy="69.3" r="1.5" fill="#51308d"/>
<line x1="472.6" y1="37.5" x2="503" y2="37.5" stroke="#231f20" stroke-width="1.1"/>
<polygon points="487.8,30.45 488.39,31.78 489.84,31.94 488.76,32.91 489.06,34.34 487.8,33.61 486.54,34.34 486.84,32.91 485.76,31.94 487.21,31.78" fill="#231f20"/>
<text x="9.5" y="23.7" font-size="1" text-anchor="start" fill="#231f20" font-weight="normal"></text>
<text x="9.2" y="219" font-size="14" text-anchor="start" fill="#000" font-weight="bold" textLength="9.2" lengthAdjust="spacingAndGlyphs" style="stroke:#000;stroke-width:0.6px">B</text>
<text x="200" y="222.9" font-size="12" text-anchor="middle" fill="#231f20" font-weight="normal" textLength="104.8" lengthAdjust="spacingAndGlyphs">Myeloid progenitors</text>
<text transform="translate(39.6 275.6) rotate(-90)" font-size="11.5" text-anchor="middle" fill="#231f20" textLength="100" lengthAdjust="spacingAndGlyphs">Cells in bone marrow (%)</text>
<line x1="67.5" y1="229.5" x2="67.5" y2="323.3" stroke="#111" stroke-width="1.45"/>
<line x1="63.9" y1="232.9" x2="67.5" y2="232.9" stroke="#231f20" stroke-width="1.3"/>
<text x="60.2" y="235.8" font-size="9.9" text-anchor="end" fill="#231f20" font-weight="normal" textLength="12.87" lengthAdjust="spacingAndGlyphs">2.0</text>
<line x1="63.9" y1="255.4" x2="67.5" y2="255.4" stroke="#231f20" stroke-width="1.3"/>
<text x="60.2" y="258.3" font-size="9.9" text-anchor="end" fill="#231f20" font-weight="normal" textLength="12.87" lengthAdjust="spacingAndGlyphs">1.5</text>
<line x1="63.9" y1="277.9" x2="67.5" y2="277.9" stroke="#231f20" stroke-width="1.3"/>
<text x="60.2" y="280.8" font-size="9.9" text-anchor="end" fill="#231f20" font-weight="normal" textLength="12.87" lengthAdjust="spacingAndGlyphs">1.0</text>
<line x1="63.9" y1="300.4" x2="67.5" y2="300.4" stroke="#231f20" stroke-width="1.3"/>
<text x="60.2" y="303.3" font-size="9.9" text-anchor="end" fill="#231f20" font-weight="normal" textLength="12.87" lengthAdjust="spacingAndGlyphs">0.5</text>
<line x1="63.9" y1="322.9" x2="67.5" y2="322.9" stroke="#231f20" stroke-width="1.3"/>
<text x="60.2" y="325.8" font-size="9.9" text-anchor="end" fill="#231f20" font-weight="normal" textLength="12.87" lengthAdjust="spacingAndGlyphs">0.0</text>
<line x1="64" y1="322.8" x2="332.8" y2="322.8" stroke="#111" stroke-width="1.7"/>
<line x1="111.4" y1="233" x2="111.4" y2="321.5" stroke="#2a2a2a" stroke-width="1.3" stroke-dasharray="4 2.36"/>
<line x1="155.9" y1="233" x2="155.9" y2="321.5" stroke="#2a2a2a" stroke-width="1.3" stroke-dasharray="4 2.36"/>
<line x1="200.1" y1="233" x2="200.1" y2="321.5" stroke="#2a2a2a" stroke-width="1.3" stroke-dasharray="4 2.36"/>
<line x1="244.6" y1="233" x2="244.6" y2="321.5" stroke="#2a2a2a" stroke-width="1.3" stroke-dasharray="4 2.36"/>
<line x1="288.5" y1="233" x2="288.5" y2="321.5" stroke="#2a2a2a" stroke-width="1.3" stroke-dasharray="4 2.36"/>
<text x="74.8" y="335.5" font-size="10" text-anchor="middle" fill="#231f20" font-weight="normal" textLength="6.64" lengthAdjust="spacingAndGlyphs">C</text>
<text x="88.4" y="335.5" font-size="10" text-anchor="middle" fill="#231f20" font-weight="normal" textLength="5.12" lengthAdjust="spacingAndGlyphs">L</text>
<text x="101.8" y="335.5" font-size="10" text-anchor="middle" fill="#231f20" font-weight="normal" textLength="6.14" lengthAdjust="spacingAndGlyphs">V</text>
<text x="119.18" y="335.5" font-size="10" text-anchor="middle" fill="#231f20" font-weight="normal" textLength="6.64" lengthAdjust="spacingAndGlyphs">C</text>
<text x="132.78" y="335.5" font-size="10" text-anchor="middle" fill="#231f20" font-weight="normal" textLength="5.12" lengthAdjust="spacingAndGlyphs">L</text>
<text x="146.18" y="335.5" font-size="10" text-anchor="middle" fill="#231f20" font-weight="normal" textLength="6.14" lengthAdjust="spacingAndGlyphs">V</text>
<text x="163.56" y="335.5" font-size="10" text-anchor="middle" fill="#231f20" font-weight="normal" textLength="6.64" lengthAdjust="spacingAndGlyphs">C</text>
<text x="177.16" y="335.5" font-size="10" text-anchor="middle" fill="#231f20" font-weight="normal" textLength="5.12" lengthAdjust="spacingAndGlyphs">L</text>
<text x="190.56" y="335.5" font-size="10" text-anchor="middle" fill="#231f20" font-weight="normal" textLength="6.14" lengthAdjust="spacingAndGlyphs">V</text>
<text x="207.94" y="335.5" font-size="10" text-anchor="middle" fill="#231f20" font-weight="normal" textLength="6.64" lengthAdjust="spacingAndGlyphs">C</text>
<text x="221.54" y="335.5" font-size="10" text-anchor="middle" fill="#231f20" font-weight="normal" textLength="5.12" lengthAdjust="spacingAndGlyphs">L</text>
<text x="234.94" y="335.5" font-size="10" text-anchor="middle" fill="#231f20" font-weight="normal" textLength="6.14" lengthAdjust="spacingAndGlyphs">V</text>
<text x="252.32" y="335.5" font-size="10" text-anchor="middle" fill="#231f20" font-weight="normal" textLength="6.64" lengthAdjust="spacingAndGlyphs">C</text>
<text x="265.92" y="335.5" font-size="10" text-anchor="middle" fill="#231f20" font-weight="normal" textLength="5.12" lengthAdjust="spacingAndGlyphs">L</text>
<text x="279.32" y="335.5" font-size="10" text-anchor="middle" fill="#231f20" font-weight="normal" textLength="6.14" lengthAdjust="spacingAndGlyphs">V</text>
<text x="296.7" y="335.5" font-size="10" text-anchor="middle" fill="#231f20" font-weight="normal" textLength="6.64" lengthAdjust="spacingAndGlyphs">C</text>
<text x="310.3" y="335.5" font-size="10" text-anchor="middle" fill="#231f20" font-weight="normal" textLength="5.12" lengthAdjust="spacingAndGlyphs">L</text>
<text x="323.7" y="335.5" font-size="10" text-anchor="middle" fill="#231f20" font-weight="normal" textLength="6.14" lengthAdjust="spacingAndGlyphs">V</text>
<line x1="70.2" y1="340.9" x2="106.8" y2="340.9" stroke="#555" stroke-width="1.8"/>
<text transform="translate(93.4 349.5) rotate(-43)" font-size="10" text-anchor="end" fill="#231f20" textLength="40.01" lengthAdjust="spacingAndGlyphs">Pre MegE</text>
<line x1="114.58" y1="340.9" x2="151.18" y2="340.9" stroke="#555" stroke-width="1.8"/>
<text transform="translate(137.78 349.5) rotate(-43)" font-size="10" text-anchor="end" fill="#231f20" textLength="44" lengthAdjust="spacingAndGlyphs">Pre CFU-E</text>
<line x1="158.96" y1="340.9" x2="195.56" y2="340.9" stroke="#555" stroke-width="1.8"/>
<text transform="translate(182.16 349.5) rotate(-43)" font-size="10" text-anchor="end" fill="#231f20" textLength="27.5" lengthAdjust="spacingAndGlyphs">CFU-E</text>
<line x1="203.34" y1="340.9" x2="239.94" y2="340.9" stroke="#555" stroke-width="1.8"/>
<text transform="translate(226.54 349.5) rotate(-43)" font-size="10" text-anchor="end" fill="#231f20" textLength="19.8" lengthAdjust="spacingAndGlyphs">MkP</text>
<line x1="247.72" y1="340.9" x2="284.32" y2="340.9" stroke="#555" stroke-width="1.8"/>
<text transform="translate(270.92 349.5) rotate(-43)" font-size="10" text-anchor="end" fill="#231f20" textLength="31" lengthAdjust="spacingAndGlyphs">Pre GM</text>
<line x1="292.1" y1="340.9" x2="328.7" y2="340.9" stroke="#555" stroke-width="1.8"/>
<text transform="translate(315.3 349.5) rotate(-43)" font-size="10" text-anchor="end" fill="#231f20" textLength="20.5" lengthAdjust="spacingAndGlyphs">GMP</text>
<line x1="71.2" y1="316.5" x2="80.4" y2="316.5" stroke="#231f20" stroke-width="1.1"/>
<circle cx="72.8" cy="316.5" r="1.5" fill="#6aade2"/>
<circle cx="74.8" cy="315.5" r="1.5" fill="#6aade2"/>
<circle cx="76.8" cy="316" r="1.5" fill="#6aade2"/>
<circle cx="78.8" cy="317" r="1.5" fill="#6aade2"/>
<circle cx="75.8" cy="317.5" r="1.5" fill="#6aade2"/>
<circle cx="73.8" cy="317.5" r="1.5" fill="#6aade2"/>
<circle cx="77.8" cy="317.5" r="1.5" fill="#6aade2"/>
<line x1="84.8" y1="317.5" x2="94" y2="317.5" stroke="#231f20" stroke-width="1.1"/>
<circle cx="86.4" cy="317.5" r="1.5" fill="#eeb311"/>
<circle cx="88.4" cy="316.5" r="1.5" fill="#eeb311"/>
<circle cx="90.4" cy="317" r="1.5" fill="#eeb311"/>
<circle cx="92.4" cy="318" r="1.5" fill="#eeb311"/>
<circle cx="89.4" cy="318.5" r="1.5" fill="#eeb311"/>
<circle cx="87.4" cy="318.5" r="1.5" fill="#eeb311"/>
<circle cx="91.4" cy="318.5" r="1.5" fill="#eeb311"/>
<line x1="98.2" y1="315.5" x2="107.4" y2="315.5" stroke="#231f20" stroke-width="1.1"/>
<circle cx="99.8" cy="315.5" r="1.5" fill="#51308d"/>
<circle cx="101.8" cy="314.5" r="1.5" fill="#51308d"/>
<circle cx="103.8" cy="315" r="1.5" fill="#51308d"/>
<circle cx="105.8" cy="316" r="1.5" fill="#51308d"/>
<circle cx="102.8" cy="316.5" r="1.5" fill="#51308d"/>
<circle cx="100.8" cy="316.5" r="1.5" fill="#51308d"/>
<circle cx="104.8" cy="316.5" r="1.5" fill="#51308d"/>
<line x1="115.58" y1="318.5" x2="124.78" y2="318.5" stroke="#231f20" stroke-width="1.1"/>
<circle cx="117.18" cy="317.5" r="1.5" fill="#6aade2"/>
<circle cx="119.18" cy="317" r="1.5" fill="#6aade2"/>
<circle cx="121.18" cy="317.5" r="1.5" fill="#6aade2"/>
<circle cx="123.18" cy="318.5" r="1.5" fill="#6aade2"/>
<circle cx="120.18" cy="319" r="1.5" fill="#6aade2"/>
<circle cx="118.18" cy="319.5" r="1.5" fill="#6aade2"/>
<circle cx="122.18" cy="319.5" r="1.5" fill="#6aade2"/>
<line x1="129.18" y1="320.5" x2="138.38" y2="320.5" stroke="#231f20" stroke-width="1.1"/>
<circle cx="130.78" cy="319.5" r="1.5" fill="#eeb311"/>
<circle cx="132.78" cy="319" r="1.5" fill="#eeb311"/>
<circle cx="134.78" cy="319.5" r="1.5" fill="#eeb311"/>
<circle cx="136.78" cy="320.5" r="1.5" fill="#eeb311"/>
<circle cx="133.78" cy="321" r="1.5" fill="#eeb311"/>
<circle cx="131.78" cy="321" r="1.5" fill="#eeb311"/>
<circle cx="135.78" cy="321" r="1.5" fill="#eeb311"/>
<line x1="142.58" y1="319.5" x2="151.78" y2="319.5" stroke="#231f20" stroke-width="1.1"/>
<circle cx="144.18" cy="319" r="1.5" fill="#51308d"/>
<circle cx="146.18" cy="318" r="1.5" fill="#51308d"/>
<circle cx="148.18" cy="318.5" r="1.5" fill="#51308d"/>
<circle cx="150.18" cy="319.5" r="1.5" fill="#51308d"/>
<circle cx="147.18" cy="320.5" r="1.5" fill="#51308d"/>
<circle cx="145.18" cy="320.5" r="1.5" fill="#51308d"/>
<circle cx="149.18" cy="320.5" r="1.5" fill="#51308d"/>
<circle cx="151.18" cy="321" r="1.5" fill="#51308d"/>
<line x1="164.5" y1="298.5" x2="164.5" y2="306.3" stroke="#231f20" stroke-width="1"/>
<line x1="161.7" y1="298.5" x2="167.3" y2="298.5" stroke="#231f20" stroke-width="1"/>
<line x1="161.7" y1="306.5" x2="167.3" y2="306.5" stroke="#231f20" stroke-width="1"/>
<line x1="159.9" y1="302.5" x2="169.1" y2="302.5" stroke="#231f20" stroke-width="1.1"/>
<circle cx="165.7" cy="297" r="1.5" fill="#6aade2"/>
<circle cx="162.3" cy="299.5" r="1.5" fill="#6aade2"/>
<circle cx="165.5" cy="300.3" r="1.5" fill="#6aade2"/>
<circle cx="167.8" cy="301.7" r="1.5" fill="#6aade2"/>
<circle cx="161.1" cy="301.7" r="1.5" fill="#6aade2"/>
<circle cx="164.5" cy="303.3" r="1.5" fill="#6aade2"/>
<circle cx="163.5" cy="304.5" r="1.5" fill="#6aade2"/>
<circle cx="164.5" cy="310.5" r="1.5" fill="#6aade2"/>
<line x1="177.5" y1="302.5" x2="177.5" y2="308.5" stroke="#231f20" stroke-width="1"/>
<line x1="175" y1="302.5" x2="180.6" y2="302.5" stroke="#231f20" stroke-width="1"/>
<line x1="175" y1="308.5" x2="180.6" y2="308.5" stroke="#231f20" stroke-width="1"/>
<line x1="173.2" y1="305.5" x2="182.4" y2="305.5" stroke="#231f20" stroke-width="1.1"/>
<circle cx="177.8" cy="299.5" r="1.5" fill="#eeb311"/>
<circle cx="175" cy="304.2" r="1.5" fill="#eeb311"/>
<circle cx="180.5" cy="304.2" r="1.5" fill="#eeb311"/>
<circle cx="177.8" cy="305" r="1.5" fill="#eeb311"/>
<circle cx="175" cy="308.4" r="1.5" fill="#eeb311"/>
<circle cx="180.5" cy="308.4" r="1.5" fill="#eeb311"/>
<circle cx="177.8" cy="308.8" r="1.5" fill="#eeb311"/>
<line x1="192.5" y1="298.7" x2="192.5" y2="307.6" stroke="#231f20" stroke-width="1"/>
<line x1="189.2" y1="298.5" x2="194.8" y2="298.5" stroke="#231f20" stroke-width="1"/>
<line x1="189.2" y1="307.5" x2="194.8" y2="307.5" stroke="#231f20" stroke-width="1"/>
<line x1="187.4" y1="303.5" x2="196.6" y2="303.5" stroke="#231f20" stroke-width="1.1"/>
<circle cx="190.7" cy="297" r="1.5" fill="#51308d"/>
<circle cx="193.3" cy="297" r="1.5" fill="#51308d"/>
<circle cx="192" cy="298.8" r="1.5" fill="#51308d"/>
<circle cx="188.1" cy="302.9" r="1.5" fill="#51308d"/>
<circle cx="194.9" cy="302.9" r="1.5" fill="#51308d"/>
<circle cx="192" cy="304" r="1.5" fill="#51308d"/>
<circle cx="190.7" cy="308" r="1.5" fill="#51308d"/>
<circle cx="193.3" cy="308.4" r="1.5" fill="#51308d"/>
<line x1="208.5" y1="297" x2="208.5" y2="304" stroke="#231f20" stroke-width="1"/>
<line x1="205.7" y1="297.5" x2="211.3" y2="297.5" stroke="#231f20" stroke-width="1"/>
<line x1="205.7" y1="304.5" x2="211.3" y2="304.5" stroke="#231f20" stroke-width="1"/>
<line x1="203.9" y1="300.5" x2="213.1" y2="300.5" stroke="#231f20" stroke-width="1.1"/>
<circle cx="208.5" cy="293.2" r="1.5" fill="#6aade2"/>
<circle cx="205.9" cy="297" r="1.5" fill="#6aade2"/>
<circle cx="210.6" cy="297.8" r="1.5" fill="#6aade2"/>
<circle cx="205.9" cy="304.2" r="1.5" fill="#6aade2"/>
<circle cx="209.3" cy="303.8" r="1.5" fill="#6aade2"/>
<circle cx="211.8" cy="302.5" r="1.5" fill="#6aade2"/>
<circle cx="208.5" cy="300" r="1.5" fill="#6aade2"/>
<line x1="217.4" y1="308.5" x2="226.6" y2="308.5" stroke="#231f20" stroke-width="1.1"/>
<circle cx="222" cy="305" r="1.5" fill="#eeb311"/>
<circle cx="220.5" cy="306.8" r="1.5" fill="#eeb311"/>
<circle cx="223.5" cy="306.8" r="1.5" fill="#eeb311"/>
<circle cx="219" cy="309" r="1.5" fill="#eeb311"/>
<circle cx="225" cy="309" r="1.5" fill="#eeb311"/>
<circle cx="222" cy="309" r="1.5" fill="#eeb311"/>
<circle cx="220.5" cy="310.2" r="1.5" fill="#eeb311"/>
<circle cx="223.5" cy="310.2" r="1.5" fill="#eeb311"/>
<line x1="236.5" y1="298" x2="236.5" y2="306" stroke="#231f20" stroke-width="1"/>
<line x1="233.2" y1="298.5" x2="238.8" y2="298.5" stroke="#231f20" stroke-width="1"/>
<line x1="233.2" y1="306.5" x2="238.8" y2="306.5" stroke="#231f20" stroke-width="1"/>
<line x1="231.4" y1="302.5" x2="240.6" y2="302.5" stroke="#231f20" stroke-width="1.1"/>
<circle cx="236.4" cy="297" r="1.5" fill="#51308d"/>
<circle cx="233.8" cy="298.7" r="1.5" fill="#51308d"/>
<circle cx="238.5" cy="299.5" r="1.5" fill="#51308d"/>
<circle cx="232.1" cy="301.7" r="1.5" fill="#51308d"/>
<circle cx="236" cy="302.5" r="1.5" fill="#51308d"/>
<circle cx="238.5" cy="304.2" r="1.5" fill="#51308d"/>
<circle cx="233.8" cy="304.6" r="1.5" fill="#51308d"/>
<circle cx="235.5" cy="308" r="1.5" fill="#51308d"/>
<line x1="248.72" y1="318.5" x2="257.92" y2="318.5" stroke="#231f20" stroke-width="1.1"/>
<circle cx="250.32" cy="317.5" r="1.5" fill="#6aade2"/>
<circle cx="252.32" cy="316.5" r="1.5" fill="#6aade2"/>
<circle cx="254.32" cy="317" r="1.5" fill="#6aade2"/>
<circle cx="256.32" cy="318" r="1.5" fill="#6aade2"/>
<circle cx="253.32" cy="318.5" r="1.5" fill="#6aade2"/>
<circle cx="251.32" cy="319" r="1.5" fill="#6aade2"/>
<circle cx="255.32" cy="319" r="1.5" fill="#6aade2"/>
<circle cx="253.32" cy="320" r="1.5" fill="#6aade2"/>
<line x1="262.32" y1="321.5" x2="271.52" y2="321.5" stroke="#231f20" stroke-width="1.1"/>
<circle cx="263.92" cy="320.5" r="1.5" fill="#eeb311"/>
<circle cx="265.92" cy="320" r="1.5" fill="#eeb311"/>
<circle cx="267.92" cy="320" r="1.5" fill="#eeb311"/>
<circle cx="269.92" cy="320.5" r="1.5" fill="#eeb311"/>
<circle cx="266.92" cy="321.5" r="1.5" fill="#eeb311"/>
<circle cx="264.92" cy="321.5" r="1.5" fill="#eeb311"/>
<circle cx="268.92" cy="321.5" r="1.5" fill="#eeb311"/>
<line x1="275.72" y1="320.5" x2="284.92" y2="320.5" stroke="#231f20" stroke-width="1.1"/>
<circle cx="277.32" cy="320.5" r="1.5" fill="#51308d"/>
<circle cx="279.32" cy="319.5" r="1.5" fill="#51308d"/>
<circle cx="281.32" cy="319.5" r="1.5" fill="#51308d"/>
<circle cx="283.32" cy="320.5" r="1.5" fill="#51308d"/>
<circle cx="280.32" cy="321.5" r="1.5" fill="#51308d"/>
<circle cx="278.32" cy="321" r="1.5" fill="#51308d"/>
<circle cx="282.32" cy="321" r="1.5" fill="#51308d"/>
<circle cx="284.32" cy="321" r="1.5" fill="#51308d"/>
<line x1="297.5" y1="293" x2="297.5" y2="306.3" stroke="#231f20" stroke-width="1"/>
<line x1="294.6" y1="293.5" x2="300.2" y2="293.5" stroke="#231f20" stroke-width="1"/>
<line x1="294.6" y1="306.5" x2="300.2" y2="306.5" stroke="#231f20" stroke-width="1"/>
<line x1="292.8" y1="299.5" x2="302" y2="299.5" stroke="#231f20" stroke-width="1.1"/>
<circle cx="294.4" cy="291.8" r="1.5" fill="#6aade2"/>
<circle cx="297.4" cy="293" r="1.5" fill="#6aade2"/>
<circle cx="300.4" cy="292.6" r="1.5" fill="#6aade2"/>
<circle cx="297.4" cy="298.2" r="1.5" fill="#6aade2"/>
<circle cx="297.4" cy="299.8" r="1.5" fill="#6aade2"/>
<circle cx="300.4" cy="302.3" r="1.5" fill="#6aade2"/>
<circle cx="297.4" cy="303.9" r="1.5" fill="#6aade2"/>
<circle cx="300.4" cy="307.1" r="1.5" fill="#6aade2"/>
<circle cx="294.4" cy="309.5" r="1.5" fill="#6aade2"/>
<line x1="310.5" y1="259.7" x2="310.5" y2="297.4" stroke="#231f20" stroke-width="1"/>
<line x1="308" y1="259.5" x2="313.6" y2="259.5" stroke="#231f20" stroke-width="1"/>
<line x1="308" y1="297.5" x2="313.6" y2="297.5" stroke="#231f20" stroke-width="1"/>
<line x1="306.2" y1="278.5" x2="315.4" y2="278.5" stroke="#231f20" stroke-width="1.1"/>
<circle cx="310.8" cy="259.3" r="1.5" fill="#eeb311"/>
<circle cx="313.4" cy="283.7" r="1.5" fill="#eeb311"/>
<circle cx="307.8" cy="286.1" r="1.5" fill="#eeb311"/>
<circle cx="310.8" cy="286.9" r="1.5" fill="#eeb311"/>
<circle cx="313.8" cy="287.7" r="1.5" fill="#eeb311"/>
<circle cx="310.8" cy="297.4" r="1.5" fill="#eeb311"/>
<line x1="323.5" y1="287.7" x2="323.5" y2="298.6" stroke="#231f20" stroke-width="1"/>
<line x1="321.1" y1="287.5" x2="326.7" y2="287.5" stroke="#231f20" stroke-width="1"/>
<line x1="321.1" y1="298.5" x2="326.7" y2="298.5" stroke="#231f20" stroke-width="1"/>
<line x1="319.3" y1="293.5" x2="328.5" y2="293.5" stroke="#231f20" stroke-width="1.1"/>
<circle cx="323.9" cy="283.4" r="1.5" fill="#51308d"/>
<circle cx="323.9" cy="287.7" r="1.5" fill="#51308d"/>
<circle cx="320.7" cy="292.2" r="1.5" fill="#51308d"/>
<circle cx="323.5" cy="293" r="1.5" fill="#51308d"/>
<circle cx="326.8" cy="293.8" r="1.5" fill="#51308d"/>
<circle cx="324.7" cy="297" r="1.5" fill="#51308d"/>
<circle cx="323.9" cy="300.6" r="1.5" fill="#51308d"/>
<line x1="74" y1="298.5" x2="105" y2="298.5" stroke="#231f20" stroke-width="1.1"/>
<polygon points="87.5,291.45 88.09,292.78 89.54,292.94 88.46,293.91 88.76,295.34 87.5,294.61 86.24,295.34 86.54,293.91 85.46,292.94 86.91,292.78" fill="#231f20"/>
<polygon points="91.5,291.45 92.09,292.78 93.54,292.94 92.46,293.91 92.76,295.34 91.5,294.61 90.24,295.34 90.54,293.91 89.46,292.94 90.91,292.78" fill="#231f20"/>
<line x1="74" y1="307.5" x2="88.3" y2="307.5" stroke="#231f20" stroke-width="1.1"/>
<polygon points="81.15,300.45 81.74,301.78 83.19,301.94 82.11,302.91 82.41,304.34 81.15,303.61 79.89,304.34 80.19,302.91 79.11,301.94 80.56,301.78" fill="#231f20"/>
<line x1="90.4" y1="307.5" x2="105" y2="307.5" stroke="#231f20" stroke-width="1.1"/>
<polygon points="95.7,300.45 96.29,301.78 97.74,301.94 96.66,302.91 96.96,304.34 95.7,303.61 94.44,304.34 94.74,302.91 93.66,301.94 95.11,301.78" fill="#231f20"/>
<polygon points="99.7,300.45 100.29,301.78 101.74,301.94 100.66,302.91 100.96,304.34 99.7,303.61 98.44,304.34 98.74,302.91 97.66,301.94 99.11,301.78" fill="#231f20"/>
<line x1="119.8" y1="304.5" x2="134" y2="304.5" stroke="#231f20" stroke-width="1.1"/>
<polygon points="126.9,297.45 127.49,298.78 128.94,298.94 127.86,299.91 128.16,301.34 126.9,300.61 125.64,301.34 125.94,299.91 124.86,298.94 126.31,298.78" fill="#231f20"/>
<line x1="206.5" y1="286.5" x2="221.4" y2="286.5" stroke="#231f20" stroke-width="1.1"/>
<polygon points="207.95,279.45 208.54,280.78 209.99,280.94 208.91,281.91 209.21,283.34 207.95,282.61 206.69,283.34 206.99,281.91 205.91,280.94 207.36,280.78" fill="#231f20"/>
<polygon points="211.95,279.45 212.54,280.78 213.99,280.94 212.91,281.91 213.21,283.34 211.95,282.61 210.69,283.34 210.99,281.91 209.91,280.94 211.36,280.78" fill="#231f20"/>
<polygon points="215.95,279.45 216.54,280.78 217.99,280.94 216.91,281.91 217.21,283.34 215.95,282.61 214.69,283.34 214.99,281.91 213.91,280.94 215.36,280.78" fill="#231f20"/>
<polygon points="219.95,279.45 220.54,280.78 221.99,280.94 220.91,281.91 221.21,283.34 219.95,282.61 218.69,283.34 218.99,281.91 217.91,280.94 219.36,280.78" fill="#231f20"/>
<line x1="223.2" y1="286.5" x2="238" y2="286.5" stroke="#231f20" stroke-width="1.1"/>
<polygon points="224.6,279.45 225.19,280.78 226.64,280.94 225.56,281.91 225.86,283.34 224.6,282.61 223.34,283.34 223.64,281.91 222.56,280.94 224.01,280.78" fill="#231f20"/>
<polygon points="228.6,279.45 229.19,280.78 230.64,280.94 229.56,281.91 229.86,283.34 228.6,282.61 227.34,283.34 227.64,281.91 226.56,280.94 228.01,280.78" fill="#231f20"/>
<polygon points="232.6,279.45 233.19,280.78 234.64,280.94 233.56,281.91 233.86,283.34 232.6,282.61 231.34,283.34 231.64,281.91 230.56,280.94 232.01,280.78" fill="#231f20"/>
<polygon points="236.6,279.45 237.19,280.78 238.64,280.94 237.56,281.91 237.86,283.34 236.6,282.61 235.34,283.34 235.64,281.91 234.56,280.94 236.01,280.78" fill="#231f20"/>
<line x1="251.8" y1="301.5" x2="266.3" y2="301.5" stroke="#231f20" stroke-width="1.1"/>
<polygon points="255.05,294.45 255.64,295.78 257.09,295.94 256.01,296.91 256.31,298.34 255.05,297.61 253.79,298.34 254.09,296.91 253.01,295.94 254.46,295.78" fill="#231f20"/>
<polygon points="259.05,294.45 259.64,295.78 261.09,295.94 260.01,296.91 260.31,298.34 259.05,297.61 257.79,298.34 258.09,296.91 257.01,295.94 258.46,295.78" fill="#231f20"/>
<polygon points="263.05,294.45 263.64,295.78 265.09,295.94 264.01,296.91 264.31,298.34 263.05,297.61 261.79,298.34 262.09,296.91 261.01,295.94 262.46,295.78" fill="#231f20"/>
<line x1="268.5" y1="301.5" x2="282.7" y2="301.5" stroke="#231f20" stroke-width="1.1"/>
<polygon points="273.6,294.45 274.19,295.78 275.64,295.94 274.56,296.91 274.86,298.34 273.6,297.61 272.34,298.34 272.64,296.91 271.56,295.94 273.01,295.78" fill="#231f20"/>
<polygon points="277.6,294.45 278.19,295.78 279.64,295.94 278.56,296.91 278.86,298.34 277.6,297.61 276.34,298.34 276.64,296.91 275.56,295.94 277.01,295.78" fill="#231f20"/>
<line x1="295" y1="235.5" x2="309.2" y2="235.5" stroke="#231f20" stroke-width="1.1"/>
<polygon points="300.1,228.45 300.69,229.78 302.14,229.94 301.06,230.91 301.36,232.34 300.1,231.61 298.84,232.34 299.14,230.91 298.06,229.94 299.51,229.78" fill="#231f20"/>
<polygon points="304.1,228.45 304.69,229.78 306.14,229.94 305.06,230.91 305.36,232.34 304.1,231.61 302.84,232.34 303.14,230.91 302.06,229.94 303.51,229.78" fill="#231f20"/>
<text x="382.1" y="218.7" font-size="14" text-anchor="start" fill="#000" font-weight="bold" textLength="7.5" lengthAdjust="spacingAndGlyphs" style="stroke:#000;stroke-width:0.6px">F</text>
<line x1="421.1" y1="229.7" x2="421.1" y2="323.6" stroke="#111" stroke-width="1.45"/>
<line x1="417.5" y1="233" x2="421.1" y2="233" stroke="#231f20" stroke-width="1.3"/>
<text x="413.9" y="235.9" font-size="9.9" text-anchor="end" fill="#231f20" font-weight="normal" textLength="12.87" lengthAdjust="spacingAndGlyphs">0.6</text>
<line x1="417.5" y1="263.1" x2="421.1" y2="263.1" stroke="#231f20" stroke-width="1.3"/>
<text x="413.9" y="266" font-size="9.9" text-anchor="end" fill="#231f20" font-weight="normal" textLength="12.87" lengthAdjust="spacingAndGlyphs">0.4</text>
<line x1="417.5" y1="293.1" x2="421.1" y2="293.1" stroke="#231f20" stroke-width="1.3"/>
<text x="413.9" y="296" font-size="9.9" text-anchor="end" fill="#231f20" font-weight="normal" textLength="12.87" lengthAdjust="spacingAndGlyphs">0.2</text>
<line x1="417.5" y1="323.2" x2="421.1" y2="323.2" stroke="#231f20" stroke-width="1.3"/>
<text x="413.9" y="326.1" font-size="9.9" text-anchor="end" fill="#231f20" font-weight="normal" textLength="12.87" lengthAdjust="spacingAndGlyphs">0.0</text>
<line x1="418" y1="323.1" x2="466" y2="323.1" stroke="#111" stroke-width="1.7"/>
<text x="429.2" y="334.9" font-size="10" text-anchor="middle" fill="#231f20" font-weight="normal" textLength="6.64" lengthAdjust="spacingAndGlyphs">C</text>
<text x="443" y="334.9" font-size="10" text-anchor="middle" fill="#231f20" font-weight="normal" textLength="5.12" lengthAdjust="spacingAndGlyphs">L</text>
<text x="456.6" y="334.9" font-size="10" text-anchor="middle" fill="#231f20" font-weight="normal" textLength="6.14" lengthAdjust="spacingAndGlyphs">V</text>
<line x1="425.3" y1="340.75" x2="461.4" y2="340.75" stroke="#444" stroke-width="1.6"/>
<text x="443.5" y="352.2" font-size="9.3" text-anchor="middle" fill="#231f20" font-weight="normal" textLength="58.9" lengthAdjust="spacingAndGlyphs">Macrophages</text>
<line x1="430.5" y1="268.4" x2="430.5" y2="302.4" stroke="#231f20" stroke-width="1"/>
<line x1="427.4" y1="268.5" x2="433" y2="268.5" stroke="#231f20" stroke-width="1"/>
<line x1="427.4" y1="302.5" x2="433" y2="302.5" stroke="#231f20" stroke-width="1"/>
<line x1="425.6" y1="285.5" x2="434.8" y2="285.5" stroke="#231f20" stroke-width="1.1"/>
<circle cx="430.2" cy="258.7" r="1.5" fill="#6aade2"/>
<circle cx="427.2" cy="275.5" r="1.5" fill="#6aade2"/>
<circle cx="433.2" cy="275.5" r="1.5" fill="#6aade2"/>
<circle cx="430.2" cy="285.6" r="1.5" fill="#6aade2"/>
<circle cx="430.2" cy="294.8" r="1.5" fill="#6aade2"/>
<circle cx="430.2" cy="302.4" r="1.5" fill="#6aade2"/>
<circle cx="430.2" cy="307.2" r="1.5" fill="#6aade2"/>
<line x1="439" y1="312.5" x2="448.2" y2="312.5" stroke="#231f20" stroke-width="1.1"/>
<circle cx="443.6" cy="309.8" r="1.5" fill="#eeb311"/>
<circle cx="442.1" cy="311.8" r="1.5" fill="#eeb311"/>
<circle cx="445.1" cy="311.8" r="1.5" fill="#eeb311"/>
<circle cx="440.8" cy="313.4" r="1.5" fill="#eeb311"/>
<circle cx="446.4" cy="313.4" r="1.5" fill="#eeb311"/>
<circle cx="443.6" cy="313.4" r="1.5" fill="#eeb311"/>
<circle cx="442.3" cy="313.8" r="1.5" fill="#eeb311"/>
<circle cx="444.9" cy="313.8" r="1.5" fill="#eeb311"/>
<line x1="452.6" y1="308.5" x2="461.8" y2="308.5" stroke="#231f20" stroke-width="1.1"/>
<circle cx="454.5" cy="306.5" r="1.5" fill="#51308d"/>
<circle cx="457.2" cy="306.2" r="1.5" fill="#51308d"/>
<circle cx="459.9" cy="306.5" r="1.5" fill="#51308d"/>
<circle cx="455" cy="308" r="1.5" fill="#51308d"/>
<circle cx="459.4" cy="308" r="1.5" fill="#51308d"/>
<circle cx="457.2" cy="308.2" r="1.5" fill="#51308d"/>
<circle cx="457.2" cy="312" r="1.5" fill="#51308d"/>
<line x1="427.7" y1="239.5" x2="458" y2="239.5" stroke="#231f20" stroke-width="1.1"/>
<polygon points="440.85,232.45 441.44,233.78 442.89,233.94 441.81,234.91 442.11,236.34 440.85,235.61 439.59,236.34 439.89,234.91 438.81,233.94 440.26,233.78" fill="#231f20"/>
<polygon points="444.85,232.45 445.44,233.78 446.89,233.94 445.81,234.91 446.11,236.34 444.85,235.61 443.59,236.34 443.89,234.91 442.81,233.94 444.26,233.78" fill="#231f20"/>
<line x1="427.7" y1="249.5" x2="441.5" y2="249.5" stroke="#231f20" stroke-width="1.1"/>
<polygon points="430.6,242.45 431.19,243.78 432.64,243.94 431.56,244.91 431.86,246.34 430.6,245.61 429.34,246.34 429.64,244.91 428.56,243.94 430.01,243.78" fill="#231f20"/>
<polygon points="434.6,242.45 435.19,243.78 436.64,243.94 435.56,244.91 435.86,246.34 434.6,245.61 433.34,246.34 433.64,244.91 432.56,243.94 434.01,243.78" fill="#231f20"/>
<polygon points="438.6,242.45 439.19,243.78 440.64,243.94 439.56,244.91 439.86,246.34 438.6,245.61 437.34,246.34 437.64,244.91 436.56,243.94 438.01,243.78" fill="#231f20"/>
<text x="8.7" y="403.7" font-size="14" text-anchor="start" fill="#000" font-weight="bold" textLength="9.2" lengthAdjust="spacingAndGlyphs" style="stroke:#000;stroke-width:0.6px">C</text>
<text x="200" y="407.9" font-size="12" text-anchor="middle" fill="#231f20" font-weight="normal" textLength="133" lengthAdjust="spacingAndGlyphs">B lymphocyte populations</text>
<text transform="translate(42 461.1) rotate(-90)" font-size="11.5" text-anchor="middle" fill="#231f20" textLength="100.5" lengthAdjust="spacingAndGlyphs">Cells in bone marrow (%)</text>
<line x1="67.3" y1="414.4" x2="67.3" y2="508.6" stroke="#111" stroke-width="1.45"/>
<line x1="63.7" y1="418.1" x2="67.3" y2="418.1" stroke="#231f20" stroke-width="1.3"/>
<text x="60.2" y="421" font-size="9.9" text-anchor="end" fill="#231f20" font-weight="normal" textLength="10.29" lengthAdjust="spacingAndGlyphs">25</text>
<line x1="63.7" y1="436.1" x2="67.3" y2="436.1" stroke="#231f20" stroke-width="1.3"/>
<text x="60.2" y="439" font-size="9.9" text-anchor="end" fill="#231f20" font-weight="normal" textLength="10.29" lengthAdjust="spacingAndGlyphs">20</text>
<line x1="63.7" y1="454.1" x2="67.3" y2="454.1" stroke="#231f20" stroke-width="1.3"/>
<text x="60.2" y="457" font-size="9.9" text-anchor="end" fill="#231f20" font-weight="normal" textLength="10.29" lengthAdjust="spacingAndGlyphs">15</text>
<line x1="63.7" y1="472.1" x2="67.3" y2="472.1" stroke="#231f20" stroke-width="1.3"/>
<text x="60.2" y="475" font-size="9.9" text-anchor="end" fill="#231f20" font-weight="normal" textLength="10.29" lengthAdjust="spacingAndGlyphs">10</text>
<line x1="63.7" y1="490.1" x2="67.3" y2="490.1" stroke="#231f20" stroke-width="1.3"/>
<text x="60.2" y="493" font-size="9.9" text-anchor="end" fill="#231f20" font-weight="normal" textLength="5.15" lengthAdjust="spacingAndGlyphs">5</text>
<line x1="63.7" y1="508.1" x2="67.3" y2="508.1" stroke="#231f20" stroke-width="1.3"/>
<text x="60.2" y="511" font-size="9.9" text-anchor="end" fill="#231f20" font-weight="normal" textLength="5.15" lengthAdjust="spacingAndGlyphs">0</text>
<line x1="64" y1="508.2" x2="331" y2="508.2" stroke="#111" stroke-width="1.7"/>
<line x1="111.3" y1="417.5" x2="111.3" y2="506.5" stroke="#2a2a2a" stroke-width="1.3" stroke-dasharray="4 2.36"/>
<line x1="155.7" y1="417.5" x2="155.7" y2="506.5" stroke="#2a2a2a" stroke-width="1.3" stroke-dasharray="4 2.36"/>
<line x1="200.3" y1="417.5" x2="200.3" y2="506.5" stroke="#2a2a2a" stroke-width="1.3" stroke-dasharray="4 2.36"/>
<line x1="244.8" y1="417.5" x2="244.8" y2="506.5" stroke="#2a2a2a" stroke-width="1.3" stroke-dasharray="4 2.36"/>
<line x1="288.6" y1="417.5" x2="288.6" y2="506.5" stroke="#2a2a2a" stroke-width="1.3" stroke-dasharray="4 2.36"/>
<text x="76.3" y="520.2" font-size="10" text-anchor="middle" fill="#231f20" font-weight="normal" textLength="6.64" lengthAdjust="spacingAndGlyphs">C</text>
<text x="89.7" y="520.2" font-size="10" text-anchor="middle" fill="#231f20" font-weight="normal" textLength="5.12" lengthAdjust="spacingAndGlyphs">L</text>
<text x="103" y="520.2" font-size="10" text-anchor="middle" fill="#231f20" font-weight="normal" textLength="6.14" lengthAdjust="spacingAndGlyphs">V</text>
<text x="120.4" y="520.2" font-size="10" text-anchor="middle" fill="#231f20" font-weight="normal" textLength="6.64" lengthAdjust="spacingAndGlyphs">C</text>
<text x="133.8" y="520.2" font-size="10" text-anchor="middle" fill="#231f20" font-weight="normal" textLength="5.12" lengthAdjust="spacingAndGlyphs">L</text>
<text x="147.1" y="520.2" font-size="10" text-anchor="middle" fill="#231f20" font-weight="normal" textLength="6.14" lengthAdjust="spacingAndGlyphs">V</text>
<text x="164.5" y="520.2" font-size="10" text-anchor="middle" fill="#231f20" font-weight="normal" textLength="6.64" lengthAdjust="spacingAndGlyphs">C</text>
<text x="177.9" y="520.2" font-size="10" text-anchor="middle" fill="#231f20" font-weight="normal" textLength="5.12" lengthAdjust="spacingAndGlyphs">L</text>
<text x="191.2" y="520.2" font-size="10" text-anchor="middle" fill="#231f20" font-weight="normal" textLength="6.14" lengthAdjust="spacingAndGlyphs">V</text>
<text x="208.6" y="520.2" font-size="10" text-anchor="middle" fill="#231f20" font-weight="normal" textLength="6.64" lengthAdjust="spacingAndGlyphs">C</text>
<text x="222" y="520.2" font-size="10" text-anchor="middle" fill="#231f20" font-weight="normal" textLength="5.12" lengthAdjust="spacingAndGlyphs">L</text>
<text x="235.3" y="520.2" font-size="10" text-anchor="middle" fill="#231f20" font-weight="normal" textLength="6.14" lengthAdjust="spacingAndGlyphs">V</text>
<text x="252.7" y="520.2" font-size="10" text-anchor="middle" fill="#231f20" font-weight="normal" textLength="6.64" lengthAdjust="spacingAndGlyphs">C</text>
<text x="266.1" y="520.2" font-size="10" text-anchor="middle" fill="#231f20" font-weight="normal" textLength="5.12" lengthAdjust="spacingAndGlyphs">L</text>
<text x="279.4" y="520.2" font-size="10" text-anchor="middle" fill="#231f20" font-weight="normal" textLength="6.14" lengthAdjust="spacingAndGlyphs">V</text>
<text x="296.8" y="520.2" font-size="10" text-anchor="middle" fill="#231f20" font-weight="normal" textLength="6.64" lengthAdjust="spacingAndGlyphs">C</text>
<text x="310.2" y="520.2" font-size="10" text-anchor="middle" fill="#231f20" font-weight="normal" textLength="5.12" lengthAdjust="spacingAndGlyphs">L</text>
<text x="323.5" y="520.2" font-size="10" text-anchor="middle" fill="#231f20" font-weight="normal" textLength="6.14" lengthAdjust="spacingAndGlyphs">V</text>
<line x1="70.3" y1="525.9" x2="108.4" y2="525.9" stroke="#5a5a5a" stroke-width="1.8"/>
<line x1="114.5" y1="525.9" x2="152.5" y2="525.9" stroke="#5a5a5a" stroke-width="1.8"/>
<line x1="158.6" y1="525.9" x2="196.6" y2="525.9" stroke="#5a5a5a" stroke-width="1.8"/>
<line x1="202.7" y1="525.9" x2="240.7" y2="525.9" stroke="#5a5a5a" stroke-width="1.8"/>
<line x1="246.8" y1="525.9" x2="284.8" y2="525.9" stroke="#5a5a5a" stroke-width="1.8"/>
<line x1="290.9" y1="525.9" x2="328.9" y2="525.9" stroke="#5a5a5a" stroke-width="1.8"/>
<text transform="translate(93.9 534.5) rotate(-43)" font-size="10" text-anchor="end" fill="#231f20" textLength="45.5" lengthAdjust="spacingAndGlyphs">B220<tspan dy="-3.5" font-size="7">+</tspan><tspan dy="3.5">IgM</tspan><tspan dy="-3.5" font-size="7">-</tspan></text>
<text transform="translate(138.8 534.5) rotate(-43)" font-size="10" text-anchor="end" fill="#231f20" textLength="40.05" lengthAdjust="spacingAndGlyphs">Pre-pro B</text>
<text transform="translate(182.9 534.5) rotate(-43)" font-size="10" text-anchor="end" fill="#231f20" textLength="22.51" lengthAdjust="spacingAndGlyphs">Pro B</text>
<text transform="translate(227 534.5) rotate(-43)" font-size="10" text-anchor="end" fill="#231f20" textLength="22.51" lengthAdjust="spacingAndGlyphs">Pre B</text>
<text transform="translate(270.1 535) rotate(-43)" font-size="10" text-anchor="end" fill="#231f20" textLength="39.53" lengthAdjust="spacingAndGlyphs">Immature</text>
<text transform="translate(278.6 542.5) rotate(-43)" font-size="10" text-anchor="end" fill="#231f20" textLength="45.5" lengthAdjust="spacingAndGlyphs">B220<tspan dy="-3.5" font-size="7">+</tspan><tspan dy="3.5">IgM</tspan><tspan dy="-3.5" font-size="7">+</tspan></text>
<text transform="translate(314.7 535.5) rotate(-43)" font-size="10" text-anchor="end" fill="#231f20" textLength="54.1" lengthAdjust="spacingAndGlyphs">Recirculating</text>
<line x1="76.5" y1="438.8" x2="76.5" y2="449.7" stroke="#231f20" stroke-width="1"/>
<line x1="73.3" y1="438.5" x2="78.9" y2="438.5" stroke="#231f20" stroke-width="1"/>
<line x1="73.3" y1="449.5" x2="78.9" y2="449.5" stroke="#231f20" stroke-width="1"/>
<line x1="71.5" y1="445.5" x2="80.7" y2="445.5" stroke="#231f20" stroke-width="1.1"/>
<circle cx="76.1" cy="433" r="1.5" fill="#6aade2"/>
<circle cx="76.1" cy="438.8" r="1.5" fill="#6aade2"/>
<circle cx="77.3" cy="442.4" r="1.5" fill="#6aade2"/>
<circle cx="73.2" cy="445.5" r="1.5" fill="#6aade2"/>
<circle cx="79" cy="444.5" r="1.5" fill="#6aade2"/>
<circle cx="76.1" cy="447" r="1.5" fill="#6aade2"/>
<circle cx="73.2" cy="451.8" r="1.5" fill="#6aade2"/>
<circle cx="78.4" cy="449.2" r="1.5" fill="#6aade2"/>
<circle cx="75.1" cy="450.5" r="1.5" fill="#6aade2"/>
<line x1="89.5" y1="456.7" x2="89.5" y2="474.4" stroke="#231f20" stroke-width="1"/>
<line x1="86.5" y1="456.5" x2="92.1" y2="456.5" stroke="#231f20" stroke-width="1"/>
<line x1="86.5" y1="474.5" x2="92.1" y2="474.5" stroke="#231f20" stroke-width="1"/>
<line x1="84.7" y1="465.5" x2="93.9" y2="465.5" stroke="#231f20" stroke-width="1.1"/>
<circle cx="89.3" cy="453" r="1.5" fill="#eeb311"/>
<circle cx="89.3" cy="456.5" r="1.5" fill="#eeb311"/>
<circle cx="89.3" cy="460.7" r="1.5" fill="#eeb311"/>
<circle cx="86.1" cy="464.8" r="1.5" fill="#eeb311"/>
<circle cx="89.8" cy="466.4" r="1.5" fill="#eeb311"/>
<circle cx="92.9" cy="466.9" r="1.5" fill="#eeb311"/>
<circle cx="90.3" cy="470" r="1.5" fill="#eeb311"/>
<circle cx="87.8" cy="466" r="1.5" fill="#eeb311"/>
<circle cx="89.3" cy="484.1" r="1.5" fill="#eeb311"/>
<line x1="102.5" y1="459.1" x2="102.5" y2="473.7" stroke="#231f20" stroke-width="1"/>
<line x1="99.9" y1="459.5" x2="105.5" y2="459.5" stroke="#231f20" stroke-width="1"/>
<line x1="99.9" y1="473.5" x2="105.5" y2="473.5" stroke="#231f20" stroke-width="1"/>
<line x1="98.1" y1="466.5" x2="107.3" y2="466.5" stroke="#231f20" stroke-width="1.1"/>
<circle cx="99.4" cy="459.6" r="1.5" fill="#51308d"/>
<circle cx="102.7" cy="457" r="1.5" fill="#51308d"/>
<circle cx="105.8" cy="459.6" r="1.5" fill="#51308d"/>
<circle cx="102.7" cy="462.2" r="1.5" fill="#51308d"/>
<circle cx="99.4" cy="469.5" r="1.5" fill="#51308d"/>
<circle cx="105.8" cy="471.1" r="1.5" fill="#51308d"/>
<circle cx="102.7" cy="473.7" r="1.5" fill="#51308d"/>
<circle cx="102.7" cy="477" r="1.5" fill="#51308d"/>
<circle cx="102.7" cy="466.4" r="1.5" fill="#51308d"/>
<line x1="115.78" y1="501.5" x2="124.98" y2="501.5" stroke="#231f20" stroke-width="1.1"/>
<circle cx="117.88" cy="498.5" r="1.5" fill="#6aade2"/>
<circle cx="120.38" cy="497.7" r="1.5" fill="#6aade2"/>
<circle cx="122.88" cy="498.5" r="1.5" fill="#6aade2"/>
<circle cx="117.18" cy="501.2" r="1.5" fill="#6aade2"/>
<circle cx="123.58" cy="501.2" r="1.5" fill="#6aade2"/>
<circle cx="120.38" cy="501" r="1.5" fill="#6aade2"/>
<circle cx="117.88" cy="503.8" r="1.5" fill="#6aade2"/>
<circle cx="122.88" cy="503.8" r="1.5" fill="#6aade2"/>
<circle cx="120.38" cy="504.2" r="1.5" fill="#6aade2"/>
<line x1="128.98" y1="501.5" x2="138.18" y2="501.5" stroke="#231f20" stroke-width="1.1"/>
<circle cx="131.08" cy="499.2" r="1.5" fill="#eeb311"/>
<circle cx="133.58" cy="498.6" r="1.5" fill="#eeb311"/>
<circle cx="136.08" cy="499.5" r="1.5" fill="#eeb311"/>
<circle cx="136.78" cy="501.5" r="1.5" fill="#eeb311"/>
<circle cx="132.58" cy="501.5" r="1.5" fill="#eeb311"/>
<circle cx="135.08" cy="502" r="1.5" fill="#eeb311"/>
<circle cx="132.58" cy="504.3" r="1.5" fill="#eeb311"/>
<circle cx="135.08" cy="504.2" r="1.5" fill="#eeb311"/>
<circle cx="130.58" cy="501.5" r="1.5" fill="#eeb311"/>
<line x1="142.38" y1="501.5" x2="151.58" y2="501.5" stroke="#231f20" stroke-width="1.1"/>
<circle cx="144.48" cy="497.8" r="1.5" fill="#51308d"/>
<circle cx="146.98" cy="499" r="1.5" fill="#51308d"/>
<circle cx="149.48" cy="499.8" r="1.5" fill="#51308d"/>
<circle cx="143.98" cy="501" r="1.5" fill="#51308d"/>
<circle cx="150.48" cy="501.2" r="1.5" fill="#51308d"/>
<circle cx="146.98" cy="502.3" r="1.5" fill="#51308d"/>
<circle cx="145.48" cy="503.8" r="1.5" fill="#51308d"/>
<circle cx="148.48" cy="503.8" r="1.5" fill="#51308d"/>
<line x1="164.5" y1="491.6" x2="164.5" y2="498.8" stroke="#231f20" stroke-width="1"/>
<line x1="161.86" y1="491.5" x2="167.46" y2="491.5" stroke="#231f20" stroke-width="1"/>
<line x1="161.86" y1="498.5" x2="167.46" y2="498.5" stroke="#231f20" stroke-width="1"/>
<line x1="160.06" y1="494.5" x2="169.26" y2="494.5" stroke="#231f20" stroke-width="1.1"/>
<circle cx="163.36" cy="489.5" r="1.5" fill="#6aade2"/>
<circle cx="166.56" cy="491.6" r="1.5" fill="#6aade2"/>
<circle cx="161.66" cy="495.4" r="1.5" fill="#6aade2"/>
<circle cx="167.96" cy="495" r="1.5" fill="#6aade2"/>
<circle cx="164.66" cy="493.5" r="1.5" fill="#6aade2"/>
<circle cx="164.66" cy="498.8" r="1.5" fill="#6aade2"/>
<circle cx="164.66" cy="502.1" r="1.5" fill="#6aade2"/>
<circle cx="163.66" cy="496.5" r="1.5" fill="#6aade2"/>
<line x1="173.26" y1="500.5" x2="182.46" y2="500.5" stroke="#231f20" stroke-width="1.1"/>
<circle cx="175.36" cy="497" r="1.5" fill="#eeb311"/>
<circle cx="178.26" cy="497" r="1.5" fill="#eeb311"/>
<circle cx="180.36" cy="499" r="1.5" fill="#eeb311"/>
<circle cx="174.06" cy="501.7" r="1.5" fill="#eeb311"/>
<circle cx="177.86" cy="501.2" r="1.5" fill="#eeb311"/>
<circle cx="179.56" cy="503.6" r="1.5" fill="#eeb311"/>
<circle cx="175.86" cy="505.3" r="1.5" fill="#eeb311"/>
<circle cx="178.86" cy="505" r="1.5" fill="#eeb311"/>
<line x1="186.66" y1="501.5" x2="195.86" y2="501.5" stroke="#231f20" stroke-width="1.1"/>
<circle cx="191.26" cy="495" r="1.5" fill="#51308d"/>
<circle cx="189.96" cy="499.2" r="1.5" fill="#51308d"/>
<circle cx="193.26" cy="499.2" r="1.5" fill="#51308d"/>
<circle cx="188.26" cy="501.7" r="1.5" fill="#51308d"/>
<circle cx="193.26" cy="502.1" r="1.5" fill="#51308d"/>
<circle cx="188.26" cy="504.7" r="1.5" fill="#51308d"/>
<circle cx="193.26" cy="504.7" r="1.5" fill="#51308d"/>
<circle cx="191.26" cy="504.5" r="1.5" fill="#51308d"/>
<line x1="208.5" y1="459.8" x2="208.5" y2="476.7" stroke="#231f20" stroke-width="1"/>
<line x1="206.14" y1="459.5" x2="211.74" y2="459.5" stroke="#231f20" stroke-width="1"/>
<line x1="206.14" y1="476.5" x2="211.74" y2="476.5" stroke="#231f20" stroke-width="1"/>
<line x1="204.34" y1="468.5" x2="213.54" y2="468.5" stroke="#231f20" stroke-width="1.1"/>
<circle cx="208.94" cy="450.3" r="1.5" fill="#6aade2"/>
<circle cx="207.14" cy="463.4" r="1.5" fill="#6aade2"/>
<circle cx="210.24" cy="464.7" r="1.5" fill="#6aade2"/>
<circle cx="205.34" cy="468.3" r="1.5" fill="#6aade2"/>
<circle cx="212.04" cy="468.3" r="1.5" fill="#6aade2"/>
<circle cx="208.94" cy="470.5" r="1.5" fill="#6aade2"/>
<circle cx="206.24" cy="478.1" r="1.5" fill="#6aade2"/>
<circle cx="210.64" cy="476.3" r="1.5" fill="#6aade2"/>
<circle cx="208.94" cy="474" r="1.5" fill="#6aade2"/>
<line x1="222.5" y1="472.6" x2="222.5" y2="492.3" stroke="#231f20" stroke-width="1"/>
<line x1="219.34" y1="472.5" x2="224.94" y2="472.5" stroke="#231f20" stroke-width="1"/>
<line x1="219.34" y1="492.5" x2="224.94" y2="492.5" stroke="#231f20" stroke-width="1"/>
<line x1="217.54" y1="482.5" x2="226.74" y2="482.5" stroke="#231f20" stroke-width="1.1"/>
<circle cx="222.14" cy="465.2" r="1.5" fill="#eeb311"/>
<circle cx="222.14" cy="469.2" r="1.5" fill="#eeb311"/>
<circle cx="222.14" cy="477.2" r="1.5" fill="#eeb311"/>
<circle cx="222.14" cy="482.1" r="1.5" fill="#eeb311"/>
<circle cx="221.24" cy="487.9" r="1.5" fill="#eeb311"/>
<circle cx="225.24" cy="486.1" r="1.5" fill="#eeb311"/>
<circle cx="225.24" cy="489.2" r="1.5" fill="#eeb311"/>
<circle cx="222.14" cy="496.3" r="1.5" fill="#eeb311"/>
<circle cx="223.14" cy="488" r="1.5" fill="#eeb311"/>
<line x1="235.5" y1="475.4" x2="235.5" y2="492.3" stroke="#231f20" stroke-width="1"/>
<line x1="232.74" y1="475.5" x2="238.34" y2="475.5" stroke="#231f20" stroke-width="1"/>
<line x1="232.74" y1="492.5" x2="238.34" y2="492.5" stroke="#231f20" stroke-width="1"/>
<line x1="230.94" y1="483.5" x2="240.14" y2="483.5" stroke="#231f20" stroke-width="1.1"/>
<circle cx="235.54" cy="468.7" r="1.5" fill="#51308d"/>
<circle cx="236.44" cy="473.6" r="1.5" fill="#51308d"/>
<circle cx="234.24" cy="474.5" r="1.5" fill="#51308d"/>
<circle cx="235.54" cy="484.8" r="1.5" fill="#51308d"/>
<circle cx="232.44" cy="488.3" r="1.5" fill="#51308d"/>
<circle cx="238.24" cy="489.2" r="1.5" fill="#51308d"/>
<circle cx="232.84" cy="491.4" r="1.5" fill="#51308d"/>
<circle cx="235.54" cy="491" r="1.5" fill="#51308d"/>
<circle cx="236.44" cy="487.5" r="1.5" fill="#51308d"/>
<line x1="253.5" y1="479.5" x2="253.5" y2="487.1" stroke="#231f20" stroke-width="1"/>
<line x1="250.42" y1="479.5" x2="256.02" y2="479.5" stroke="#231f20" stroke-width="1"/>
<line x1="250.42" y1="487.5" x2="256.02" y2="487.5" stroke="#231f20" stroke-width="1"/>
<line x1="248.62" y1="483.5" x2="257.82" y2="483.5" stroke="#231f20" stroke-width="1.1"/>
<circle cx="256.22" cy="478.2" r="1.5" fill="#6aade2"/>
<circle cx="250.22" cy="480.3" r="1.5" fill="#6aade2"/>
<circle cx="253.22" cy="480.5" r="1.5" fill="#6aade2"/>
<circle cx="255.02" cy="482.4" r="1.5" fill="#6aade2"/>
<circle cx="251.42" cy="486" r="1.5" fill="#6aade2"/>
<circle cx="251.52" cy="489.6" r="1.5" fill="#6aade2"/>
<circle cx="254.52" cy="487.9" r="1.5" fill="#6aade2"/>
<line x1="266.5" y1="486.2" x2="266.5" y2="496.8" stroke="#231f20" stroke-width="1"/>
<line x1="263.62" y1="486.5" x2="269.22" y2="486.5" stroke="#231f20" stroke-width="1"/>
<line x1="263.62" y1="496.5" x2="269.22" y2="496.5" stroke="#231f20" stroke-width="1"/>
<line x1="261.82" y1="491.5" x2="271.02" y2="491.5" stroke="#231f20" stroke-width="1.1"/>
<circle cx="263.52" cy="484.1" r="1.5" fill="#eeb311"/>
<circle cx="269.42" cy="486.6" r="1.5" fill="#eeb311"/>
<circle cx="263.52" cy="487.9" r="1.5" fill="#eeb311"/>
<circle cx="266.42" cy="491.7" r="1.5" fill="#eeb311"/>
<circle cx="263.52" cy="493.8" r="1.5" fill="#eeb311"/>
<circle cx="269.42" cy="495.1" r="1.5" fill="#eeb311"/>
<circle cx="266.42" cy="496.4" r="1.5" fill="#eeb311"/>
<circle cx="266.42" cy="501.5" r="1.5" fill="#eeb311"/>
<line x1="279.5" y1="486.5" x2="279.5" y2="495.5" stroke="#231f20" stroke-width="1"/>
<line x1="277.02" y1="486.5" x2="282.62" y2="486.5" stroke="#231f20" stroke-width="1"/>
<line x1="277.02" y1="495.5" x2="282.62" y2="495.5" stroke="#231f20" stroke-width="1"/>
<line x1="275.22" y1="490.5" x2="284.42" y2="490.5" stroke="#231f20" stroke-width="1.1"/>
<circle cx="279.82" cy="482.4" r="1.5" fill="#51308d"/>
<circle cx="278.92" cy="485.4" r="1.5" fill="#51308d"/>
<circle cx="280.72" cy="486" r="1.5" fill="#51308d"/>
<circle cx="279.82" cy="487.2" r="1.5" fill="#51308d"/>
<circle cx="276.82" cy="495.5" r="1.5" fill="#51308d"/>
<circle cx="282.82" cy="496" r="1.5" fill="#51308d"/>
<circle cx="279.82" cy="493.8" r="1.5" fill="#51308d"/>
<circle cx="278.82" cy="495.5" r="1.5" fill="#51308d"/>
<circle cx="281.32" cy="495" r="1.5" fill="#51308d"/>
<line x1="297.5" y1="486.9" x2="297.5" y2="500.2" stroke="#231f20" stroke-width="1"/>
<line x1="294.7" y1="486.5" x2="300.3" y2="486.5" stroke="#231f20" stroke-width="1"/>
<line x1="294.7" y1="500.5" x2="300.3" y2="500.5" stroke="#231f20" stroke-width="1"/>
<line x1="292.9" y1="493.5" x2="302.1" y2="493.5" stroke="#231f20" stroke-width="1.1"/>
<circle cx="297.5" cy="483.3" r="1.5" fill="#6aade2"/>
<circle cx="294.3" cy="488.3" r="1.5" fill="#6aade2"/>
<circle cx="297.8" cy="489.6" r="1.5" fill="#6aade2"/>
<circle cx="294.3" cy="493.8" r="1.5" fill="#6aade2"/>
<circle cx="300.7" cy="493.8" r="1.5" fill="#6aade2"/>
<circle cx="297.5" cy="496.4" r="1.5" fill="#6aade2"/>
<circle cx="297.5" cy="499.3" r="1.5" fill="#6aade2"/>
<circle cx="294.3" cy="501.9" r="1.5" fill="#6aade2"/>
<circle cx="300.3" cy="501" r="1.5" fill="#6aade2"/>
<line x1="310.5" y1="495.5" x2="310.5" y2="503.5" stroke="#231f20" stroke-width="1"/>
<line x1="307.9" y1="495.5" x2="313.5" y2="495.5" stroke="#231f20" stroke-width="1"/>
<line x1="307.9" y1="503.5" x2="313.5" y2="503.5" stroke="#231f20" stroke-width="1"/>
<line x1="306.1" y1="499.5" x2="315.3" y2="499.5" stroke="#231f20" stroke-width="1.1"/>
<circle cx="309.8" cy="492.6" r="1.5" fill="#eeb311"/>
<circle cx="313.2" cy="496.4" r="1.5" fill="#eeb311"/>
<circle cx="307.7" cy="498.9" r="1.5" fill="#eeb311"/>
<circle cx="313.7" cy="499.2" r="1.5" fill="#eeb311"/>
<circle cx="309.8" cy="501.5" r="1.5" fill="#eeb311"/>
<circle cx="307.7" cy="503.6" r="1.5" fill="#eeb311"/>
<circle cx="313.7" cy="504" r="1.5" fill="#eeb311"/>
<line x1="319.5" y1="499.5" x2="328.7" y2="499.5" stroke="#231f20" stroke-width="1.1"/>
<circle cx="323.2" cy="493.4" r="1.5" fill="#51308d"/>
<circle cx="326.6" cy="494.7" r="1.5" fill="#51308d"/>
<circle cx="321.6" cy="497.2" r="1.5" fill="#51308d"/>
<circle cx="326.6" cy="497.5" r="1.5" fill="#51308d"/>
<circle cx="324.1" cy="499.3" r="1.5" fill="#51308d"/>
<circle cx="322.4" cy="503.1" r="1.5" fill="#51308d"/>
<circle cx="326.6" cy="503.1" r="1.5" fill="#51308d"/>
<line x1="72.2" y1="418.5" x2="108.1" y2="418.5" stroke="#231f20" stroke-width="1.1"/>
<polygon points="84.15,411.45 84.74,412.78 86.19,412.94 85.11,413.91 85.41,415.34 84.15,414.61 82.89,415.34 83.19,413.91 82.11,412.94 83.56,412.78" fill="#231f20"/>
<polygon points="88.15,411.45 88.74,412.78 90.19,412.94 89.11,413.91 89.41,415.34 88.15,414.61 86.89,415.34 87.19,413.91 86.11,412.94 87.56,412.78" fill="#231f20"/>
<polygon points="92.15,411.45 92.74,412.78 94.19,412.94 93.11,413.91 93.41,415.34 92.15,414.61 90.89,415.34 91.19,413.91 90.11,412.94 91.56,412.78" fill="#231f20"/>
<polygon points="96.15,411.45 96.74,412.78 98.19,412.94 97.11,413.91 97.41,415.34 96.15,414.61 94.89,415.34 95.19,413.91 94.11,412.94 95.56,412.78" fill="#231f20"/>
<line x1="72.2" y1="426.5" x2="94.9" y2="426.5" stroke="#231f20" stroke-width="1.1"/>
<polygon points="77.55,419.45 78.14,420.78 79.59,420.94 78.51,421.91 78.81,423.34 77.55,422.61 76.29,423.34 76.59,421.91 75.51,420.94 76.96,420.78" fill="#231f20"/>
<polygon points="81.55,419.45 82.14,420.78 83.59,420.94 82.51,421.91 82.81,423.34 81.55,422.61 80.29,423.34 80.59,421.91 79.51,420.94 80.96,420.78" fill="#231f20"/>
<polygon points="85.55,419.45 86.14,420.78 87.59,420.94 86.51,421.91 86.81,423.34 85.55,422.61 84.29,423.34 84.59,421.91 83.51,420.94 84.96,420.78" fill="#231f20"/>
<polygon points="89.55,419.45 90.14,420.78 91.59,420.94 90.51,421.91 90.81,423.34 89.55,422.61 88.29,423.34 88.59,421.91 87.51,420.94 88.96,420.78" fill="#231f20"/>
<line x1="161.9" y1="476.5" x2="192.4" y2="476.5" stroke="#231f20" stroke-width="1.1"/>
<polygon points="175.15,469.45 175.74,470.78 177.19,470.94 176.11,471.91 176.41,473.34 175.15,472.61 173.89,473.34 174.19,471.91 173.11,470.94 174.56,470.78" fill="#231f20"/>
<polygon points="179.15,469.45 179.74,470.78 181.19,470.94 180.11,471.91 180.41,473.34 179.15,472.61 177.89,473.34 178.19,471.91 177.11,470.94 178.56,470.78" fill="#231f20"/>
<line x1="161.9" y1="485.5" x2="176.7" y2="485.5" stroke="#231f20" stroke-width="1.1"/>
<polygon points="167.3,478.45 167.89,479.78 169.34,479.94 168.26,480.91 168.56,482.34 167.3,481.61 166.04,482.34 166.34,480.91 165.26,479.94 166.71,479.78" fill="#231f20"/>
<polygon points="171.3,478.45 171.89,479.78 173.34,479.94 172.26,480.91 172.56,482.34 171.3,481.61 170.04,482.34 170.34,480.91 169.26,479.94 170.71,479.78" fill="#231f20"/>
<line x1="207.1" y1="436.5" x2="237" y2="436.5" stroke="#231f20" stroke-width="1.1"/>
<polygon points="220.05,429.45 220.64,430.78 222.09,430.94 221.01,431.91 221.31,433.34 220.05,432.61 218.79,433.34 219.09,431.91 218.01,430.94 219.46,430.78" fill="#231f20"/>
<polygon points="224.05,429.45 224.64,430.78 226.09,430.94 225.01,431.91 225.31,433.34 224.05,432.61 222.79,433.34 223.09,431.91 222.01,430.94 223.46,430.78" fill="#231f20"/>
<line x1="207.1" y1="444.5" x2="220.9" y2="444.5" stroke="#231f20" stroke-width="1.1"/>
<polygon points="212,437.45 212.59,438.78 214.04,438.94 212.96,439.91 213.26,441.34 212,440.61 210.74,441.34 211.04,439.91 209.96,438.94 211.41,438.78" fill="#231f20"/>
<polygon points="216,437.45 216.59,438.78 218.04,438.94 216.96,439.91 217.26,441.34 216,440.61 214.74,441.34 215.04,439.91 213.96,438.94 215.41,438.78" fill="#231f20"/>
<line x1="251.2" y1="465.5" x2="281.2" y2="465.5" stroke="#231f20" stroke-width="1.1"/>
<polygon points="264.2,458.45 264.79,459.78 266.24,459.94 265.16,460.91 265.46,462.34 264.2,461.61 262.94,462.34 263.24,460.91 262.16,459.94 263.61,459.78" fill="#231f20"/>
<polygon points="268.2,458.45 268.79,459.78 270.24,459.94 269.16,460.91 269.46,462.34 268.2,461.61 266.94,462.34 267.24,460.91 266.16,459.94 267.61,459.78" fill="#231f20"/>
<line x1="251.2" y1="473.5" x2="265.6" y2="473.5" stroke="#231f20" stroke-width="1.1"/>
<polygon points="256.4,466.45 256.99,467.78 258.44,467.94 257.36,468.91 257.66,470.34 256.4,469.61 255.14,470.34 255.44,468.91 254.36,467.94 255.81,467.78" fill="#231f20"/>
<polygon points="260.4,466.45 260.99,467.78 262.44,467.94 261.36,468.91 261.66,470.34 260.4,469.61 259.14,470.34 259.44,468.91 258.36,467.94 259.81,467.78" fill="#231f20"/>
<line x1="294.8" y1="477.5" x2="309" y2="477.5" stroke="#231f20" stroke-width="1.1"/>
<text x="294.2" y="471.8" font-size="8.6" fill="#231f20" textLength="38.5" lengthAdjust="spacingAndGlyphs"><tspan font-style="italic">p</tspan>=0.0551</text>
<text x="8.7" y="599.6" font-size="14" text-anchor="start" fill="#000" font-weight="bold" textLength="10" lengthAdjust="spacingAndGlyphs" style="stroke:#000;stroke-width:0.6px">D</text>
<text x="175.9" y="604.5" font-size="12.2" text-anchor="middle" fill="#231f20" font-weight="normal" textLength="111.3" lengthAdjust="spacingAndGlyphs">Erythroid populations</text>
<text transform="translate(41.9 656.3) rotate(-90)" font-size="11.5" text-anchor="middle" fill="#231f20" textLength="99.8" lengthAdjust="spacingAndGlyphs">Cells in bone marrow (%)</text>
<line x1="67.4" y1="610.6" x2="67.4" y2="704.4" stroke="#111" stroke-width="1.45"/>
<line x1="63.8" y1="614" x2="67.4" y2="614" stroke="#231f20" stroke-width="1.3"/>
<text x="60.3" y="616.9" font-size="9.9" text-anchor="end" fill="#231f20" font-weight="normal" textLength="10.29" lengthAdjust="spacingAndGlyphs">15</text>
<line x1="63.8" y1="644" x2="67.4" y2="644" stroke="#231f20" stroke-width="1.3"/>
<text x="60.3" y="646.9" font-size="9.9" text-anchor="end" fill="#231f20" font-weight="normal" textLength="10.29" lengthAdjust="spacingAndGlyphs">10</text>
<line x1="63.8" y1="673.9" x2="67.4" y2="673.9" stroke="#231f20" stroke-width="1.3"/>
<text x="60.3" y="676.8" font-size="9.9" text-anchor="end" fill="#231f20" font-weight="normal" textLength="5.15" lengthAdjust="spacingAndGlyphs">5</text>
<line x1="63.8" y1="703.9" x2="67.4" y2="703.9" stroke="#231f20" stroke-width="1.3"/>
<text x="60.3" y="706.8" font-size="9.9" text-anchor="end" fill="#231f20" font-weight="normal" textLength="5.15" lengthAdjust="spacingAndGlyphs">0</text>
<line x1="64" y1="704.2" x2="283" y2="704.2" stroke="#111" stroke-width="1.7"/>
<line x1="110.7" y1="614" x2="110.7" y2="703" stroke="#2a2a2a" stroke-width="1.3" stroke-dasharray="4 2.36"/>
<line x1="154.1" y1="614" x2="154.1" y2="703" stroke="#2a2a2a" stroke-width="1.3" stroke-dasharray="4 2.36"/>
<line x1="197.2" y1="614" x2="197.2" y2="703" stroke="#2a2a2a" stroke-width="1.3" stroke-dasharray="4 2.36"/>
<line x1="240.4" y1="614" x2="240.4" y2="703" stroke="#2a2a2a" stroke-width="1.3" stroke-dasharray="4 2.36"/>
<text x="74.5" y="716.2" font-size="10" text-anchor="middle" fill="#231f20" font-weight="normal" textLength="6.64" lengthAdjust="spacingAndGlyphs">C</text>
<text x="87.9" y="716.2" font-size="10" text-anchor="middle" fill="#231f20" font-weight="normal" textLength="5.12" lengthAdjust="spacingAndGlyphs">L</text>
<text x="101.3" y="716.2" font-size="10" text-anchor="middle" fill="#231f20" font-weight="normal" textLength="6.14" lengthAdjust="spacingAndGlyphs">V</text>
<text x="118.1" y="716.2" font-size="10" text-anchor="middle" fill="#231f20" font-weight="normal" textLength="6.64" lengthAdjust="spacingAndGlyphs">C</text>
<text x="131.5" y="716.2" font-size="10" text-anchor="middle" fill="#231f20" font-weight="normal" textLength="5.12" lengthAdjust="spacingAndGlyphs">L</text>
<text x="144.9" y="716.2" font-size="10" text-anchor="middle" fill="#231f20" font-weight="normal" textLength="6.14" lengthAdjust="spacingAndGlyphs">V</text>
<text x="161.7" y="716.2" font-size="10" text-anchor="middle" fill="#231f20" font-weight="normal" textLength="6.64" lengthAdjust="spacingAndGlyphs">C</text>
<text x="175.1" y="716.2" font-size="10" text-anchor="middle" fill="#231f20" font-weight="normal" textLength="5.12" lengthAdjust="spacingAndGlyphs">L</text>
<text x="188.5" y="716.2" font-size="10" text-anchor="middle" fill="#231f20" font-weight="normal" textLength="6.14" lengthAdjust="spacingAndGlyphs">V</text>
<text x="205.3" y="716.2" font-size="10" text-anchor="middle" fill="#231f20" font-weight="normal" textLength="6.64" lengthAdjust="spacingAndGlyphs">C</text>
<text x="218.7" y="716.2" font-size="10" text-anchor="middle" fill="#231f20" font-weight="normal" textLength="5.12" lengthAdjust="spacingAndGlyphs">L</text>
<text x="232.1" y="716.2" font-size="10" text-anchor="middle" fill="#231f20" font-weight="normal" textLength="6.14" lengthAdjust="spacingAndGlyphs">V</text>
<text x="248.9" y="716.2" font-size="10" text-anchor="middle" fill="#231f20" font-weight="normal" textLength="6.64" lengthAdjust="spacingAndGlyphs">C</text>
<text x="262.3" y="716.2" font-size="10" text-anchor="middle" fill="#231f20" font-weight="normal" textLength="5.12" lengthAdjust="spacingAndGlyphs">L</text>
<text x="275.7" y="716.2" font-size="10" text-anchor="middle" fill="#231f20" font-weight="normal" textLength="6.14" lengthAdjust="spacingAndGlyphs">V</text>
<line x1="70" y1="721.9" x2="105.8" y2="721.9" stroke="#5a5a5a" stroke-width="1.8"/>
<line x1="113.6" y1="721.9" x2="149.4" y2="721.9" stroke="#5a5a5a" stroke-width="1.8"/>
<line x1="157.2" y1="721.9" x2="193" y2="721.9" stroke="#5a5a5a" stroke-width="1.8"/>
<line x1="200.8" y1="721.9" x2="236.6" y2="721.9" stroke="#5a5a5a" stroke-width="1.8"/>
<line x1="244.4" y1="721.9" x2="280.2" y2="721.9" stroke="#5a5a5a" stroke-width="1.8"/>
<text transform="translate(92.9 731) rotate(-43)" font-size="10" text-anchor="end" fill="#231f20" textLength="64.68" lengthAdjust="spacingAndGlyphs">Proerythroblast</text>
<text transform="translate(136.5 730.5) rotate(-43)" font-size="10" text-anchor="end" fill="#231f20" textLength="41.02" lengthAdjust="spacingAndGlyphs">Basophilic</text>
<text transform="translate(179.1 730.5) rotate(-43)" font-size="10" text-anchor="end" fill="#231f20" textLength="21.53" lengthAdjust="spacingAndGlyphs">Poly-</text>
<text transform="translate(187.6 738) rotate(-43)" font-size="10" text-anchor="end" fill="#231f20" textLength="41.35" lengthAdjust="spacingAndGlyphs">chromatic</text>
<text transform="translate(223.7 730.8) rotate(-43)" font-size="10" text-anchor="end" fill="#231f20" textLength="27.54" lengthAdjust="spacingAndGlyphs">Ortho-</text>
<text transform="translate(231.2 738) rotate(-43)" font-size="10" text-anchor="end" fill="#231f20" textLength="41.35" lengthAdjust="spacingAndGlyphs">chromatic</text>
<text transform="translate(266.8 730.5) rotate(-43)" font-size="10" text-anchor="end" fill="#231f20" textLength="53.52" lengthAdjust="spacingAndGlyphs">Reticulocytes</text>
<line x1="71.4" y1="699.5" x2="80.6" y2="699.5" stroke="#231f20" stroke-width="1.1"/>
<circle cx="76" cy="694.9" r="1.5" fill="#6aade2"/>
<circle cx="74" cy="698.5" r="1.5" fill="#6aade2"/>
<circle cx="78" cy="698.5" r="1.5" fill="#6aade2"/>
<circle cx="72.5" cy="701" r="1.5" fill="#6aade2"/>
<circle cx="79.5" cy="701" r="1.5" fill="#6aade2"/>
<circle cx="76" cy="700.5" r="1.5" fill="#6aade2"/>
<circle cx="74" cy="703" r="1.5" fill="#6aade2"/>
<circle cx="78" cy="703" r="1.5" fill="#6aade2"/>
<line x1="84.4" y1="694.5" x2="93.6" y2="694.5" stroke="#231f20" stroke-width="1.1"/>
<circle cx="86" cy="692.5" r="1.5" fill="#eeb311"/>
<circle cx="89" cy="691.8" r="1.5" fill="#eeb311"/>
<circle cx="92" cy="692.5" r="1.5" fill="#eeb311"/>
<circle cx="88" cy="694" r="1.5" fill="#eeb311"/>
<circle cx="91" cy="694.5" r="1.5" fill="#eeb311"/>
<circle cx="87" cy="696.5" r="1.5" fill="#eeb311"/>
<circle cx="88" cy="697" r="1.5" fill="#eeb311"/>
<circle cx="92" cy="693.5" r="1.5" fill="#eeb311"/>
<line x1="97.4" y1="698.5" x2="106.6" y2="698.5" stroke="#231f20" stroke-width="1.1"/>
<circle cx="105" cy="694.3" r="1.5" fill="#51308d"/>
<circle cx="102" cy="696" r="1.5" fill="#51308d"/>
<circle cx="99" cy="697.5" r="1.5" fill="#51308d"/>
<circle cx="104" cy="698" r="1.5" fill="#51308d"/>
<circle cx="101" cy="699" r="1.5" fill="#51308d"/>
<circle cx="103" cy="700.5" r="1.5" fill="#51308d"/>
<circle cx="100.5" cy="701.5" r="1.5" fill="#51308d"/>
<circle cx="99" cy="698.5" r="1.5" fill="#51308d"/>
<line x1="114.65" y1="702.5" x2="123.85" y2="702.5" stroke="#231f20" stroke-width="1.1"/>
<circle cx="119.25" cy="699.5" r="1.5" fill="#6aade2"/>
<circle cx="117.25" cy="701.5" r="1.5" fill="#6aade2"/>
<circle cx="121.25" cy="701.5" r="1.5" fill="#6aade2"/>
<circle cx="115.75" cy="703" r="1.5" fill="#6aade2"/>
<circle cx="122.75" cy="703" r="1.5" fill="#6aade2"/>
<circle cx="119.25" cy="703" r="1.5" fill="#6aade2"/>
<circle cx="117.75" cy="702" r="1.5" fill="#6aade2"/>
<circle cx="120.75" cy="702" r="1.5" fill="#6aade2"/>
<line x1="132.5" y1="685.9" x2="132.5" y2="698.5" stroke="#231f20" stroke-width="1"/>
<line x1="129.45" y1="685.5" x2="135.05" y2="685.5" stroke="#231f20" stroke-width="1"/>
<line x1="129.45" y1="698.5" x2="135.05" y2="698.5" stroke="#231f20" stroke-width="1"/>
<line x1="127.65" y1="692.5" x2="136.85" y2="692.5" stroke="#231f20" stroke-width="1.1"/>
<circle cx="132.25" cy="683.3" r="1.5" fill="#eeb311"/>
<circle cx="131.25" cy="688.8" r="1.5" fill="#eeb311"/>
<circle cx="134.25" cy="688.5" r="1.5" fill="#eeb311"/>
<circle cx="132.25" cy="692.2" r="1.5" fill="#eeb311"/>
<circle cx="129.25" cy="694.8" r="1.5" fill="#eeb311"/>
<circle cx="130.75" cy="698.1" r="1.5" fill="#eeb311"/>
<circle cx="135.25" cy="696.5" r="1.5" fill="#eeb311"/>
<circle cx="133.25" cy="698.5" r="1.5" fill="#eeb311"/>
<line x1="145.5" y1="690.5" x2="145.5" y2="701" stroke="#231f20" stroke-width="1"/>
<line x1="142.45" y1="690.5" x2="148.05" y2="690.5" stroke="#231f20" stroke-width="1"/>
<line x1="142.45" y1="701.5" x2="148.05" y2="701.5" stroke="#231f20" stroke-width="1"/>
<line x1="140.65" y1="696.5" x2="149.85" y2="696.5" stroke="#231f20" stroke-width="1.1"/>
<circle cx="142.25" cy="691.8" r="1.5" fill="#51308d"/>
<circle cx="145.25" cy="690.1" r="1.5" fill="#51308d"/>
<circle cx="148.25" cy="690.5" r="1.5" fill="#51308d"/>
<circle cx="145.25" cy="693.5" r="1.5" fill="#51308d"/>
<circle cx="142.25" cy="696.9" r="1.5" fill="#51308d"/>
<circle cx="148.25" cy="696.9" r="1.5" fill="#51308d"/>
<circle cx="145.25" cy="698.6" r="1.5" fill="#51308d"/>
<circle cx="148.25" cy="700.3" r="1.5" fill="#51308d"/>
<circle cx="142.25" cy="702.8" r="1.5" fill="#51308d"/>
<line x1="157.9" y1="699.5" x2="167.1" y2="699.5" stroke="#231f20" stroke-width="1.1"/>
<circle cx="160.4" cy="696.1" r="1.5" fill="#6aade2"/>
<circle cx="165.1" cy="695.3" r="1.5" fill="#6aade2"/>
<circle cx="162.5" cy="698.6" r="1.5" fill="#6aade2"/>
<circle cx="160" cy="701.5" r="1.5" fill="#6aade2"/>
<circle cx="165" cy="702" r="1.5" fill="#6aade2"/>
<circle cx="161.5" cy="700" r="1.5" fill="#6aade2"/>
<circle cx="163.5" cy="700" r="1.5" fill="#6aade2"/>
<line x1="175.5" y1="676" x2="175.5" y2="689.1" stroke="#231f20" stroke-width="1"/>
<line x1="172.7" y1="676.5" x2="178.3" y2="676.5" stroke="#231f20" stroke-width="1"/>
<line x1="172.7" y1="689.5" x2="178.3" y2="689.5" stroke="#231f20" stroke-width="1"/>
<line x1="170.9" y1="681.5" x2="180.1" y2="681.5" stroke="#231f20" stroke-width="1.1"/>
<circle cx="174.5" cy="675" r="1.5" fill="#eeb311"/>
<circle cx="177" cy="677.1" r="1.5" fill="#eeb311"/>
<circle cx="173.5" cy="678.3" r="1.5" fill="#eeb311"/>
<circle cx="175.5" cy="679.6" r="1.5" fill="#eeb311"/>
<circle cx="173" cy="682.1" r="1.5" fill="#eeb311"/>
<circle cx="177.5" cy="681.7" r="1.5" fill="#eeb311"/>
<circle cx="179" cy="682" r="1.5" fill="#eeb311"/>
<circle cx="174" cy="693" r="1.5" fill="#eeb311"/>
<circle cx="177" cy="693" r="1.5" fill="#eeb311"/>
<line x1="188.5" y1="684" x2="188.5" y2="693.5" stroke="#231f20" stroke-width="1"/>
<line x1="185.7" y1="684.5" x2="191.3" y2="684.5" stroke="#231f20" stroke-width="1"/>
<line x1="185.7" y1="693.5" x2="191.3" y2="693.5" stroke="#231f20" stroke-width="1"/>
<line x1="183.9" y1="689.5" x2="193.1" y2="689.5" stroke="#231f20" stroke-width="1.1"/>
<circle cx="186.5" cy="683.4" r="1.5" fill="#51308d"/>
<circle cx="189.8" cy="684.7" r="1.5" fill="#51308d"/>
<circle cx="191.5" cy="685.5" r="1.5" fill="#51308d"/>
<circle cx="188.5" cy="688.5" r="1.5" fill="#51308d"/>
<circle cx="190.5" cy="690.6" r="1.5" fill="#51308d"/>
<circle cx="187" cy="692.3" r="1.5" fill="#51308d"/>
<circle cx="189.8" cy="693.6" r="1.5" fill="#51308d"/>
<circle cx="188.5" cy="697.8" r="1.5" fill="#51308d"/>
<line x1="201.15" y1="696.5" x2="210.35" y2="696.5" stroke="#231f20" stroke-width="1.1"/>
<circle cx="203.75" cy="690" r="1.5" fill="#6aade2"/>
<circle cx="205.75" cy="689" r="1.5" fill="#6aade2"/>
<circle cx="207.75" cy="691" r="1.5" fill="#6aade2"/>
<circle cx="204.75" cy="693" r="1.5" fill="#6aade2"/>
<circle cx="206.75" cy="694" r="1.5" fill="#6aade2"/>
<circle cx="203.25" cy="699" r="1.5" fill="#6aade2"/>
<circle cx="205.75" cy="700" r="1.5" fill="#6aade2"/>
<circle cx="208.25" cy="699.5" r="1.5" fill="#6aade2"/>
<circle cx="204.75" cy="702" r="1.5" fill="#6aade2"/>
<circle cx="206.75" cy="702.5" r="1.5" fill="#6aade2"/>
<circle cx="205.75" cy="697" r="1.5" fill="#6aade2"/>
<line x1="218.5" y1="666.7" x2="218.5" y2="680.4" stroke="#231f20" stroke-width="1"/>
<line x1="215.95" y1="666.5" x2="221.55" y2="666.5" stroke="#231f20" stroke-width="1"/>
<line x1="215.95" y1="680.5" x2="221.55" y2="680.5" stroke="#231f20" stroke-width="1"/>
<line x1="214.15" y1="672.5" x2="223.35" y2="672.5" stroke="#231f20" stroke-width="1.1"/>
<circle cx="216.75" cy="665.2" r="1.5" fill="#eeb311"/>
<circle cx="218.75" cy="664.5" r="1.5" fill="#eeb311"/>
<circle cx="220.75" cy="665" r="1.5" fill="#eeb311"/>
<circle cx="215.75" cy="672" r="1.5" fill="#eeb311"/>
<circle cx="217.75" cy="673" r="1.5" fill="#eeb311"/>
<circle cx="219.75" cy="671.5" r="1.5" fill="#eeb311"/>
<circle cx="221.75" cy="672.5" r="1.5" fill="#eeb311"/>
<circle cx="218.75" cy="684.8" r="1.5" fill="#eeb311"/>
<circle cx="217.25" cy="675" r="1.5" fill="#eeb311"/>
<line x1="231.5" y1="677" x2="231.5" y2="687" stroke="#231f20" stroke-width="1"/>
<line x1="228.95" y1="677.5" x2="234.55" y2="677.5" stroke="#231f20" stroke-width="1"/>
<line x1="228.95" y1="687.5" x2="234.55" y2="687.5" stroke="#231f20" stroke-width="1"/>
<line x1="227.15" y1="681.5" x2="236.35" y2="681.5" stroke="#231f20" stroke-width="1.1"/>
<circle cx="229.75" cy="676.4" r="1.5" fill="#51308d"/>
<circle cx="234.25" cy="676.8" r="1.5" fill="#51308d"/>
<circle cx="231.75" cy="678.5" r="1.5" fill="#51308d"/>
<circle cx="228.75" cy="681.5" r="1.5" fill="#51308d"/>
<circle cx="234.75" cy="681.5" r="1.5" fill="#51308d"/>
<circle cx="231.75" cy="683" r="1.5" fill="#51308d"/>
<circle cx="229.75" cy="685.7" r="1.5" fill="#51308d"/>
<circle cx="233.75" cy="685.7" r="1.5" fill="#51308d"/>
<circle cx="231.75" cy="692.5" r="1.5" fill="#51308d"/>
<line x1="249.5" y1="673.1" x2="249.5" y2="684.7" stroke="#231f20" stroke-width="1"/>
<line x1="246.2" y1="673.5" x2="251.8" y2="673.5" stroke="#231f20" stroke-width="1"/>
<line x1="246.2" y1="684.5" x2="251.8" y2="684.5" stroke="#231f20" stroke-width="1"/>
<line x1="244.4" y1="679.5" x2="253.6" y2="679.5" stroke="#231f20" stroke-width="1.1"/>
<circle cx="245.6" cy="674.1" r="1.5" fill="#6aade2"/>
<circle cx="251.8" cy="672.2" r="1.5" fill="#6aade2"/>
<circle cx="249" cy="675" r="1.5" fill="#6aade2"/>
<circle cx="245.6" cy="678.4" r="1.5" fill="#6aade2"/>
<circle cx="251.8" cy="677.2" r="1.5" fill="#6aade2"/>
<circle cx="249" cy="681.6" r="1.5" fill="#6aade2"/>
<circle cx="249" cy="684.7" r="1.5" fill="#6aade2"/>
<circle cx="249" cy="690.3" r="1.5" fill="#6aade2"/>
<line x1="262.5" y1="628.2" x2="262.5" y2="660.4" stroke="#231f20" stroke-width="1"/>
<line x1="259.2" y1="628.5" x2="264.8" y2="628.5" stroke="#231f20" stroke-width="1"/>
<line x1="259.2" y1="660.5" x2="264.8" y2="660.5" stroke="#231f20" stroke-width="1"/>
<line x1="257.4" y1="645.5" x2="266.6" y2="645.5" stroke="#231f20" stroke-width="1.1"/>
<circle cx="259.2" cy="625.7" r="1.5" fill="#eeb311"/>
<circle cx="264.8" cy="628.2" r="1.5" fill="#eeb311"/>
<circle cx="259.2" cy="631.1" r="1.5" fill="#eeb311"/>
<circle cx="262" cy="631.7" r="1.5" fill="#eeb311"/>
<circle cx="262" cy="642.7" r="1.5" fill="#eeb311"/>
<circle cx="259.2" cy="660.4" r="1.5" fill="#eeb311"/>
<circle cx="262" cy="661.6" r="1.5" fill="#eeb311"/>
<circle cx="264.8" cy="661.9" r="1.5" fill="#eeb311"/>
<circle cx="259.2" cy="664.1" r="1.5" fill="#eeb311"/>
<line x1="275.5" y1="645.4" x2="275.5" y2="672.8" stroke="#231f20" stroke-width="1"/>
<line x1="272.2" y1="645.5" x2="277.8" y2="645.5" stroke="#231f20" stroke-width="1"/>
<line x1="272.2" y1="672.5" x2="277.8" y2="672.5" stroke="#231f20" stroke-width="1"/>
<line x1="270.4" y1="659.5" x2="279.6" y2="659.5" stroke="#231f20" stroke-width="1.1"/>
<circle cx="272.5" cy="641.9" r="1.5" fill="#51308d"/>
<circle cx="275" cy="643.5" r="1.5" fill="#51308d"/>
<circle cx="272.5" cy="644.2" r="1.5" fill="#51308d"/>
<circle cx="272.5" cy="659.4" r="1.5" fill="#51308d"/>
<circle cx="275" cy="659.4" r="1.5" fill="#51308d"/>
<circle cx="275" cy="664.7" r="1.5" fill="#51308d"/>
<circle cx="275" cy="667.9" r="1.5" fill="#51308d"/>
<circle cx="275" cy="672.8" r="1.5" fill="#51308d"/>
<circle cx="275" cy="678" r="1.5" fill="#51308d"/>
<line x1="73.9" y1="679.5" x2="104" y2="679.5" stroke="#231f20" stroke-width="1.1"/>
<polygon points="88.95,672.45 89.54,673.78 90.99,673.94 89.91,674.91 90.21,676.34 88.95,675.61 87.69,676.34 87.99,674.91 86.91,673.94 88.36,673.78" fill="#231f20"/>
<line x1="73.9" y1="687.5" x2="88.3" y2="687.5" stroke="#231f20" stroke-width="1.1"/>
<polygon points="75.1,680.45 75.69,681.78 77.14,681.94 76.06,682.91 76.36,684.34 75.1,683.61 73.84,684.34 74.14,682.91 73.06,681.94 74.51,681.78" fill="#231f20"/>
<polygon points="79.1,680.45 79.69,681.78 81.14,681.94 80.06,682.91 80.36,684.34 79.1,683.61 77.84,684.34 78.14,682.91 77.06,681.94 78.51,681.78" fill="#231f20"/>
<polygon points="83.1,680.45 83.69,681.78 85.14,681.94 84.06,682.91 84.36,684.34 83.1,683.61 81.84,684.34 82.14,682.91 81.06,681.94 82.51,681.78" fill="#231f20"/>
<polygon points="87.1,680.45 87.69,681.78 89.14,681.94 88.06,682.91 88.36,684.34 87.1,683.61 85.84,684.34 86.14,682.91 85.06,681.94 86.51,681.78" fill="#231f20"/>
<line x1="90.2" y1="687.5" x2="104" y2="687.5" stroke="#231f20" stroke-width="1.1"/>
<polygon points="95.1,680.45 95.69,681.78 97.14,681.94 96.06,682.91 96.36,684.34 95.1,683.61 93.84,684.34 94.14,682.91 93.06,681.94 94.51,681.78" fill="#231f20"/>
<polygon points="99.1,680.45 99.69,681.78 101.14,681.94 100.06,682.91 100.36,684.34 99.1,683.61 97.84,684.34 98.14,682.91 97.06,681.94 98.51,681.78" fill="#231f20"/>
<line x1="117.9" y1="670.5" x2="148" y2="670.5" stroke="#231f20" stroke-width="1.1"/>
<polygon points="130.95,663.45 131.54,664.78 132.99,664.94 131.91,665.91 132.21,667.34 130.95,666.61 129.69,667.34 129.99,665.91 128.91,664.94 130.36,664.78" fill="#231f20"/>
<polygon points="134.95,663.45 135.54,664.78 136.99,664.94 135.91,665.91 136.21,667.34 134.95,666.61 133.69,667.34 133.99,665.91 132.91,664.94 134.36,664.78" fill="#231f20"/>
<line x1="117.9" y1="678.5" x2="131.9" y2="678.5" stroke="#231f20" stroke-width="1.1"/>
<polygon points="120.9,671.45 121.49,672.78 122.94,672.94 121.86,673.91 122.16,675.34 120.9,674.61 119.64,675.34 119.94,673.91 118.86,672.94 120.31,672.78" fill="#231f20"/>
<polygon points="124.9,671.45 125.49,672.78 126.94,672.94 125.86,673.91 126.16,675.34 124.9,674.61 123.64,675.34 123.94,673.91 122.86,672.94 124.31,672.78" fill="#231f20"/>
<polygon points="128.9,671.45 129.49,672.78 130.94,672.94 129.86,673.91 130.16,675.34 128.9,674.61 127.64,675.34 127.94,673.91 126.86,672.94 128.31,672.78" fill="#231f20"/>
<line x1="159.7" y1="662.5" x2="189.7" y2="662.5" stroke="#231f20" stroke-width="1.1"/>
<polygon points="170.7,655.45 171.29,656.78 172.74,656.94 171.66,657.91 171.96,659.34 170.7,658.61 169.44,659.34 169.74,657.91 168.66,656.94 170.11,656.78" fill="#231f20"/>
<polygon points="174.7,655.45 175.29,656.78 176.74,656.94 175.66,657.91 175.96,659.34 174.7,658.61 173.44,659.34 173.74,657.91 172.66,656.94 174.11,656.78" fill="#231f20"/>
<polygon points="178.7,655.45 179.29,656.78 180.74,656.94 179.66,657.91 179.96,659.34 178.7,658.61 177.44,659.34 177.74,657.91 176.66,656.94 178.11,656.78" fill="#231f20"/>
<line x1="159.7" y1="671.5" x2="173.8" y2="671.5" stroke="#231f20" stroke-width="1.1"/>
<polygon points="160.75,664.45 161.34,665.78 162.79,665.94 161.71,666.91 162.01,668.34 160.75,667.61 159.49,668.34 159.79,666.91 158.71,665.94 160.16,665.78" fill="#231f20"/>
<polygon points="164.75,664.45 165.34,665.78 166.79,665.94 165.71,666.91 166.01,668.34 164.75,667.61 163.49,668.34 163.79,666.91 162.71,665.94 164.16,665.78" fill="#231f20"/>
<polygon points="168.75,664.45 169.34,665.78 170.79,665.94 169.71,666.91 170.01,668.34 168.75,667.61 167.49,668.34 167.79,666.91 166.71,665.94 168.16,665.78" fill="#231f20"/>
<polygon points="172.75,664.45 173.34,665.78 174.79,665.94 173.71,666.91 174.01,668.34 172.75,667.61 171.49,668.34 171.79,666.91 170.71,665.94 172.16,665.78" fill="#231f20"/>
<line x1="176" y1="671.5" x2="189.7" y2="671.5" stroke="#231f20" stroke-width="1.1"/>
<polygon points="182.85,664.45 183.44,665.78 184.89,665.94 183.81,666.91 184.11,668.34 182.85,667.61 181.59,668.34 181.89,666.91 180.81,665.94 182.26,665.78" fill="#231f20"/>
<line x1="203.9" y1="651.5" x2="233.5" y2="651.5" stroke="#231f20" stroke-width="1.1"/>
<polygon points="214.7,644.45 215.29,645.78 216.74,645.94 215.66,646.91 215.96,648.34 214.7,647.61 213.44,648.34 213.74,646.91 212.66,645.94 214.11,645.78" fill="#231f20"/>
<polygon points="218.7,644.45 219.29,645.78 220.74,645.94 219.66,646.91 219.96,648.34 218.7,647.61 217.44,648.34 217.74,646.91 216.66,645.94 218.11,645.78" fill="#231f20"/>
<polygon points="222.7,644.45 223.29,645.78 224.74,645.94 223.66,646.91 223.96,648.34 222.7,647.61 221.44,648.34 221.74,646.91 220.66,645.94 222.11,645.78" fill="#231f20"/>
<line x1="203.9" y1="659.5" x2="218.1" y2="659.5" stroke="#231f20" stroke-width="1.1"/>
<polygon points="205,652.45 205.59,653.78 207.04,653.94 205.96,654.91 206.26,656.34 205,655.61 203.74,656.34 204.04,654.91 202.96,653.94 204.41,653.78" fill="#231f20"/>
<polygon points="209,652.45 209.59,653.78 211.04,653.94 209.96,654.91 210.26,656.34 209,655.61 207.74,656.34 208.04,654.91 206.96,653.94 208.41,653.78" fill="#231f20"/>
<polygon points="213,652.45 213.59,653.78 215.04,653.94 213.96,654.91 214.26,656.34 213,655.61 211.74,656.34 212.04,654.91 210.96,653.94 212.41,653.78" fill="#231f20"/>
<polygon points="217,652.45 217.59,653.78 219.04,653.94 217.96,654.91 218.26,656.34 217,655.61 215.74,656.34 216.04,654.91 214.96,653.94 216.41,653.78" fill="#231f20"/>
<line x1="220.2" y1="659.5" x2="234.2" y2="659.5" stroke="#231f20" stroke-width="1.1"/>
<polygon points="225.2,652.45 225.79,653.78 227.24,653.94 226.16,654.91 226.46,656.34 225.2,655.61 223.94,656.34 224.24,654.91 223.16,653.94 224.61,653.78" fill="#231f20"/>
<polygon points="229.2,652.45 229.79,653.78 231.24,653.94 230.16,654.91 230.46,656.34 229.2,655.61 227.94,656.34 228.24,654.91 227.16,653.94 228.61,653.78" fill="#231f20"/>
<line x1="246.9" y1="613.5" x2="277.4" y2="613.5" stroke="#231f20" stroke-width="1.1"/>
<polygon points="258.15,606.45 258.74,607.78 260.19,607.94 259.11,608.91 259.41,610.34 258.15,609.61 256.89,610.34 257.19,608.91 256.11,607.94 257.56,607.78" fill="#231f20"/>
<polygon points="262.15,606.45 262.74,607.78 264.19,607.94 263.11,608.91 263.41,610.34 262.15,609.61 260.89,610.34 261.19,608.91 260.11,607.94 261.56,607.78" fill="#231f20"/>
<polygon points="266.15,606.45 266.74,607.78 268.19,607.94 267.11,608.91 267.41,610.34 266.15,609.61 264.89,610.34 265.19,608.91 264.11,607.94 265.56,607.78" fill="#231f20"/>
<line x1="246.9" y1="621.5" x2="261.2" y2="621.5" stroke="#231f20" stroke-width="1.1"/>
<polygon points="248.05,614.45 248.64,615.78 250.09,615.94 249.01,616.91 249.31,618.34 248.05,617.61 246.79,618.34 247.09,616.91 246.01,615.94 247.46,615.78" fill="#231f20"/>
<polygon points="252.05,614.45 252.64,615.78 254.09,615.94 253.01,616.91 253.31,618.34 252.05,617.61 250.79,618.34 251.09,616.91 250.01,615.94 251.46,615.78" fill="#231f20"/>
<polygon points="256.05,614.45 256.64,615.78 258.09,615.94 257.01,616.91 257.31,618.34 256.05,617.61 254.79,618.34 255.09,616.91 254.01,615.94 255.46,615.78" fill="#231f20"/>
<polygon points="260.05,614.45 260.64,615.78 262.09,615.94 261.01,616.91 261.31,618.34 260.05,617.61 258.79,618.34 259.09,616.91 258.01,615.94 259.46,615.78" fill="#231f20"/>
<line x1="311.8" y1="611" x2="311.8" y2="704.6" stroke="#111" stroke-width="1.45"/>
<line x1="308.2" y1="614.4" x2="311.8" y2="614.4" stroke="#231f20" stroke-width="1.3"/>
<text x="305.2" y="617.3" font-size="9.9" text-anchor="end" fill="#231f20" font-weight="normal" textLength="10.29" lengthAdjust="spacingAndGlyphs">60</text>
<line x1="308.2" y1="644.4" x2="311.8" y2="644.4" stroke="#231f20" stroke-width="1.3"/>
<text x="305.2" y="647.3" font-size="9.9" text-anchor="end" fill="#231f20" font-weight="normal" textLength="10.29" lengthAdjust="spacingAndGlyphs">40</text>
<line x1="308.2" y1="674.2" x2="311.8" y2="674.2" stroke="#231f20" stroke-width="1.3"/>
<text x="305.2" y="677.1" font-size="9.9" text-anchor="end" fill="#231f20" font-weight="normal" textLength="10.29" lengthAdjust="spacingAndGlyphs">20</text>
<line x1="308.2" y1="704.1" x2="311.8" y2="704.1" stroke="#231f20" stroke-width="1.3"/>
<text x="305.2" y="707" font-size="9.9" text-anchor="end" fill="#231f20" font-weight="normal" textLength="5.15" lengthAdjust="spacingAndGlyphs">0</text>
<line x1="308.2" y1="704.1" x2="357.1" y2="704.1" stroke="#111" stroke-width="1.7"/>
<text x="319.8" y="716" font-size="10" text-anchor="middle" fill="#231f20" font-weight="normal" textLength="6.64" lengthAdjust="spacingAndGlyphs">C</text>
<text x="333.8" y="716" font-size="10" text-anchor="middle" fill="#231f20" font-weight="normal" textLength="5.12" lengthAdjust="spacingAndGlyphs">L</text>
<text x="347.6" y="716" font-size="10" text-anchor="middle" fill="#231f20" font-weight="normal" textLength="6.14" lengthAdjust="spacingAndGlyphs">V</text>
<line x1="316" y1="721.8" x2="352.3" y2="721.8" stroke="#5a5a5a" stroke-width="1.8"/>
<text x="334.1" y="733.6" font-size="9" text-anchor="middle" fill="#231f20" font-weight="normal" textLength="31.2" lengthAdjust="spacingAndGlyphs">Mature</text>
<text x="334.4" y="745.2" font-size="9" text-anchor="middle" fill="#231f20" font-weight="normal" textLength="53.2" lengthAdjust="spacingAndGlyphs">erythrocytes</text>
<line x1="321.5" y1="647.4" x2="321.5" y2="687.1" stroke="#231f20" stroke-width="1"/>
<line x1="318.4" y1="647.5" x2="324" y2="647.5" stroke="#231f20" stroke-width="1"/>
<line x1="318.4" y1="687.5" x2="324" y2="687.5" stroke="#231f20" stroke-width="1"/>
<line x1="316.6" y1="667.5" x2="325.8" y2="667.5" stroke="#231f20" stroke-width="1.1"/>
<circle cx="321.2" cy="630.6" r="1.5" fill="#6aade2"/>
<circle cx="321.2" cy="647.4" r="1.5" fill="#6aade2"/>
<circle cx="322.3" cy="658.2" r="1.5" fill="#6aade2"/>
<circle cx="319.6" cy="660.2" r="1.5" fill="#6aade2"/>
<circle cx="318.3" cy="680.1" r="1.5" fill="#6aade2"/>
<circle cx="324.3" cy="680.6" r="1.5" fill="#6aade2"/>
<circle cx="321.2" cy="677.9" r="1.5" fill="#6aade2"/>
<circle cx="321.2" cy="685.1" r="1.5" fill="#6aade2"/>
<circle cx="321.2" cy="688.4" r="1.5" fill="#6aade2"/>
<line x1="334.5" y1="671" x2="334.5" y2="679.7" stroke="#231f20" stroke-width="1"/>
<line x1="331.6" y1="671.5" x2="337.2" y2="671.5" stroke="#231f20" stroke-width="1"/>
<line x1="331.6" y1="679.5" x2="337.2" y2="679.5" stroke="#231f20" stroke-width="1"/>
<line x1="329.8" y1="675.5" x2="339" y2="675.5" stroke="#231f20" stroke-width="1.1"/>
<circle cx="331.7" cy="668.3" r="1.5" fill="#eeb311"/>
<circle cx="336.4" cy="668.5" r="1.5" fill="#eeb311"/>
<circle cx="334.4" cy="671" r="1.5" fill="#eeb311"/>
<circle cx="337.8" cy="672.3" r="1.5" fill="#eeb311"/>
<circle cx="331.7" cy="677" r="1.5" fill="#eeb311"/>
<circle cx="334.4" cy="675.5" r="1.5" fill="#eeb311"/>
<circle cx="337.8" cy="679" r="1.5" fill="#eeb311"/>
<circle cx="331.7" cy="681.7" r="1.5" fill="#eeb311"/>
<circle cx="335.7" cy="679.5" r="1.5" fill="#eeb311"/>
<circle cx="333.4" cy="673.5" r="1.5" fill="#eeb311"/>
<line x1="348.5" y1="668.3" x2="348.5" y2="681.7" stroke="#231f20" stroke-width="1"/>
<line x1="345.3" y1="668.5" x2="350.9" y2="668.5" stroke="#231f20" stroke-width="1"/>
<line x1="345.3" y1="681.5" x2="350.9" y2="681.5" stroke="#231f20" stroke-width="1"/>
<line x1="343.5" y1="674.5" x2="352.7" y2="674.5" stroke="#231f20" stroke-width="1.1"/>
<circle cx="345.2" cy="665.6" r="1.5" fill="#51308d"/>
<circle cx="351.2" cy="668.3" r="1.5" fill="#51308d"/>
<circle cx="345.2" cy="669.5" r="1.5" fill="#51308d"/>
<circle cx="351.2" cy="671.6" r="1.5" fill="#51308d"/>
<circle cx="345.2" cy="675.3" r="1.5" fill="#51308d"/>
<circle cx="351.2" cy="675.3" r="1.5" fill="#51308d"/>
<circle cx="348.1" cy="679.7" r="1.5" fill="#51308d"/>
<circle cx="345.2" cy="684.4" r="1.5" fill="#51308d"/>
<circle cx="351.2" cy="683.7" r="1.5" fill="#51308d"/>
<rect x="0" y="0" width="520" height="1.1" fill="#000"/>
<rect x="0" y="0" width="1.2" height="786" fill="#000"/>
<rect x="518.4" y="0" width="1.6" height="786" fill="#000"/>
<rect x="0" y="784.1" width="520" height="1.9" fill="#000"/>
</svg>
</body></html>
